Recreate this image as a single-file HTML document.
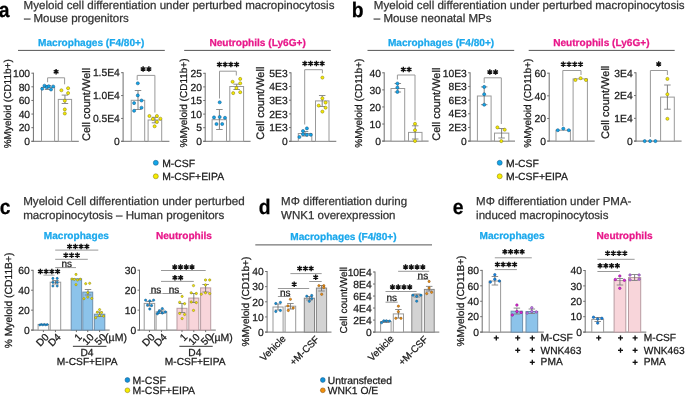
<!DOCTYPE html>
<html><head><meta charset="utf-8"><style>
html,body{margin:0;padding:0;background:#fff;}
body{width:685px;height:395px;overflow:hidden;}
svg{display:block;font-family:"Liberation Sans",sans-serif;will-change:transform;text-rendering:geometricPrecision;}

</style></head><body>
<svg width="685" height="395" viewBox="0 0 685 395">
<rect width="685" height="395" fill="#fff"/>
<text transform="translate(9.4 17.1) scale(0.92 1)" font-size="21" font-weight="700" fill="#000" stroke="#000" stroke-width="0.25" text-anchor="end">a</text>
<text x="23.6" y="8.5" font-size="11.57" fill="#333333" stroke="#333333" stroke-width="0.25">Myeloid cell differentiation under perturbed macropinocytosis</text>
<text x="23.9" y="21.6" font-size="11.5" fill="#333333" stroke="#333333" stroke-width="0.25">– Mouse progenitors</text>
<text x="38" y="45.6" font-size="10.1" font-weight="700" fill="#1aa8ec" stroke="#1aa8ec" stroke-width="0.25">Macrophages (F4/80+)</text>
<text x="209.4" y="45.8" font-size="10.1" font-weight="700" fill="#e8178a" stroke="#e8178a" stroke-width="0.25">Neutrophils (Ly6G+)</text>
<line x1="18" y1="50.4" x2="164.8" y2="50.4" stroke="#555" stroke-width="1"/>
<line x1="184.2" y1="50.4" x2="330.8" y2="50.4" stroke="#555" stroke-width="1"/>
<line x1="33.4" y1="72.7" x2="33.4" y2="141.8" stroke="#6e6e6e" stroke-width="1"/>
<line x1="31.4" y1="141.3" x2="78.8" y2="141.3" stroke="#6e6e6e" stroke-width="1"/>
<line x1="31.4" y1="141.3" x2="33.4" y2="141.3" stroke="#6e6e6e" stroke-width="1"/>
<text x="30.1" y="145" font-size="10.3" fill="#1a1a1a" stroke="#1a1a1a" stroke-width="0.25" text-anchor="end">0</text>
<line x1="31.4" y1="127.68" x2="33.4" y2="127.68" stroke="#6e6e6e" stroke-width="1"/>
<text x="30.1" y="131.38" font-size="10.3" fill="#1a1a1a" stroke="#1a1a1a" stroke-width="0.25" text-anchor="end">20</text>
<line x1="31.4" y1="114.06" x2="33.4" y2="114.06" stroke="#6e6e6e" stroke-width="1"/>
<text x="30.1" y="117.76" font-size="10.3" fill="#1a1a1a" stroke="#1a1a1a" stroke-width="0.25" text-anchor="end">40</text>
<line x1="31.4" y1="100.44" x2="33.4" y2="100.44" stroke="#6e6e6e" stroke-width="1"/>
<text x="30.1" y="104.14" font-size="10.3" fill="#1a1a1a" stroke="#1a1a1a" stroke-width="0.25" text-anchor="end">60</text>
<line x1="31.4" y1="86.82" x2="33.4" y2="86.82" stroke="#6e6e6e" stroke-width="1"/>
<text x="30.1" y="90.52" font-size="10.3" fill="#1a1a1a" stroke="#1a1a1a" stroke-width="0.25" text-anchor="end">80</text>
<line x1="31.4" y1="73.2" x2="33.4" y2="73.2" stroke="#6e6e6e" stroke-width="1"/>
<text x="30.1" y="76.9" font-size="10.3" fill="#1a1a1a" stroke="#1a1a1a" stroke-width="0.25" text-anchor="end">100</text>
<text x="11.2" y="103.8" font-size="10" fill="#1a1a1a" stroke="#1a1a1a" stroke-width="0.25" text-anchor="middle" transform="rotate(-90 11.2 103.8)">%Myeloid (CD11b+)</text>
<rect x="41.5" y="87.5" width="13.1" height="53.8" fill="#fff" stroke="#999999" stroke-width="1"/>
<rect x="58.3" y="99.4" width="13.3" height="41.9" fill="#fff" stroke="#999999" stroke-width="1"/>
<line x1="48" y1="85.6" x2="48" y2="89.5" stroke="#6a6a6a" stroke-width="0.85"/>
<line x1="44.75" y1="85.6" x2="51.25" y2="85.6" stroke="#808080" stroke-width="0.9"/>
<line x1="44.75" y1="89.5" x2="51.25" y2="89.5" stroke="#808080" stroke-width="0.9"/>
<line x1="64.95" y1="95.1" x2="64.95" y2="103.5" stroke="#6a6a6a" stroke-width="0.85"/>
<line x1="61.7" y1="95.1" x2="68.2" y2="95.1" stroke="#808080" stroke-width="0.9"/>
<line x1="61.7" y1="103.5" x2="68.2" y2="103.5" stroke="#808080" stroke-width="0.9"/>
<path d="M47.6 82.3V77.8H64.6V84.3" stroke="#999999" stroke-width="1" fill="none"/>
<path d="M56.1 69.05L56.1 74.55M53.72 70.42L58.48 73.17M58.48 70.42L53.72 73.17" stroke="#111" stroke-width="1.4" fill="none"/>
<circle cx="42.2" cy="88.7" r="1.55" fill="#12a6e8" stroke="#1a5a88" stroke-width="0.55"/>
<circle cx="44.5" cy="85.7" r="1.55" fill="#12a6e8" stroke="#1a5a88" stroke-width="0.55"/>
<circle cx="46.7" cy="87.2" r="1.55" fill="#12a6e8" stroke="#1a5a88" stroke-width="0.55"/>
<circle cx="48.7" cy="86.2" r="1.55" fill="#12a6e8" stroke="#1a5a88" stroke-width="0.55"/>
<circle cx="51" cy="89.5" r="1.55" fill="#12a6e8" stroke="#1a5a88" stroke-width="0.55"/>
<circle cx="53.2" cy="86.5" r="1.55" fill="#12a6e8" stroke="#1a5a88" stroke-width="0.55"/>
<circle cx="61.4" cy="90.3" r="1.55" fill="#f6ec00" stroke="#8a7f10" stroke-width="0.55"/>
<circle cx="68.1" cy="88.2" r="1.55" fill="#f6ec00" stroke="#8a7f10" stroke-width="0.55"/>
<circle cx="68.1" cy="93.1" r="1.55" fill="#f6ec00" stroke="#8a7f10" stroke-width="0.55"/>
<circle cx="64.8" cy="100.7" r="1.55" fill="#f6ec00" stroke="#8a7f10" stroke-width="0.55"/>
<circle cx="64.8" cy="109.4" r="1.55" fill="#f6ec00" stroke="#8a7f10" stroke-width="0.55"/>
<circle cx="64.8" cy="113.5" r="1.55" fill="#f6ec00" stroke="#8a7f10" stroke-width="0.55"/>
<line x1="123.1" y1="72.2" x2="123.1" y2="141.8" stroke="#6e6e6e" stroke-width="1"/>
<line x1="121.1" y1="141.3" x2="169.4" y2="141.3" stroke="#6e6e6e" stroke-width="1"/>
<line x1="121.1" y1="141.3" x2="123.1" y2="141.3" stroke="#6e6e6e" stroke-width="1"/>
<text x="119.8" y="145" font-size="10.3" fill="#1a1a1a" stroke="#1a1a1a" stroke-width="0.25" text-anchor="end">0</text>
<line x1="121.1" y1="118.43" x2="123.1" y2="118.43" stroke="#6e6e6e" stroke-width="1"/>
<text x="119.8" y="122.13" font-size="10.3" fill="#1a1a1a" stroke="#1a1a1a" stroke-width="0.25" text-anchor="end">0.5E4</text>
<line x1="121.1" y1="95.57" x2="123.1" y2="95.57" stroke="#6e6e6e" stroke-width="1"/>
<text x="119.8" y="99.27" font-size="10.3" fill="#1a1a1a" stroke="#1a1a1a" stroke-width="0.25" text-anchor="end">1.0E4</text>
<line x1="121.1" y1="72.7" x2="123.1" y2="72.7" stroke="#6e6e6e" stroke-width="1"/>
<text x="119.8" y="76.4" font-size="10.3" fill="#1a1a1a" stroke="#1a1a1a" stroke-width="0.25" text-anchor="end">1.5E4</text>
<text x="90.3" y="104.4" font-size="11" fill="#1a1a1a" stroke="#1a1a1a" stroke-width="0.25" text-anchor="middle" transform="rotate(-90 90.3 104.4)">Cell count/Well</text>
<rect x="131.2" y="100.3" width="13.5" height="41" fill="#fff" stroke="#999999" stroke-width="1"/>
<rect x="148.1" y="120" width="13.6" height="21.3" fill="#fff" stroke="#999999" stroke-width="1"/>
<line x1="138" y1="90.5" x2="138" y2="109.5" stroke="#6a6a6a" stroke-width="0.85"/>
<line x1="134.75" y1="90.5" x2="141.25" y2="90.5" stroke="#808080" stroke-width="0.9"/>
<line x1="134.75" y1="109.5" x2="141.25" y2="109.5" stroke="#808080" stroke-width="0.9"/>
<line x1="155" y1="117.3" x2="155" y2="122.8" stroke="#6a6a6a" stroke-width="0.85"/>
<line x1="151.75" y1="117.3" x2="158.25" y2="117.3" stroke="#808080" stroke-width="0.9"/>
<line x1="151.75" y1="122.8" x2="158.25" y2="122.8" stroke="#808080" stroke-width="0.9"/>
<path d="M137.2 80.2V75.4H154.9V112.5" stroke="#999999" stroke-width="1" fill="none"/>
<path d="M143.12 66.35L143.12 71.85M140.74 67.72L145.51 70.47M145.51 67.72L140.74 70.47" stroke="#111" stroke-width="1.4" fill="none"/>
<path d="M148.88 66.35L148.88 71.85M146.49 67.72L151.26 70.47M151.26 67.72L146.49 70.47" stroke="#111" stroke-width="1.4" fill="none"/>
<circle cx="137.8" cy="83.3" r="1.55" fill="#12a6e8" stroke="#1a5a88" stroke-width="0.55"/>
<circle cx="137.8" cy="95.4" r="1.55" fill="#12a6e8" stroke="#1a5a88" stroke-width="0.55"/>
<circle cx="141.5" cy="100.5" r="1.55" fill="#12a6e8" stroke="#1a5a88" stroke-width="0.55"/>
<circle cx="134.1" cy="103.1" r="1.55" fill="#12a6e8" stroke="#1a5a88" stroke-width="0.55"/>
<circle cx="141.5" cy="107.7" r="1.55" fill="#12a6e8" stroke="#1a5a88" stroke-width="0.55"/>
<circle cx="134.1" cy="110.8" r="1.55" fill="#12a6e8" stroke="#1a5a88" stroke-width="0.55"/>
<circle cx="149.4" cy="116" r="1.55" fill="#f6ec00" stroke="#8a7f10" stroke-width="0.55"/>
<circle cx="152.9" cy="119" r="1.55" fill="#f6ec00" stroke="#8a7f10" stroke-width="0.55"/>
<circle cx="156.9" cy="116" r="1.55" fill="#f6ec00" stroke="#8a7f10" stroke-width="0.55"/>
<circle cx="160.4" cy="118.7" r="1.55" fill="#f6ec00" stroke="#8a7f10" stroke-width="0.55"/>
<circle cx="156.9" cy="121.9" r="1.55" fill="#f6ec00" stroke="#8a7f10" stroke-width="0.55"/>
<circle cx="154.6" cy="126.3" r="1.55" fill="#f6ec00" stroke="#8a7f10" stroke-width="0.55"/>
<line x1="205.2" y1="72.8" x2="205.2" y2="141.8" stroke="#6e6e6e" stroke-width="1"/>
<line x1="203.2" y1="141.3" x2="250.6" y2="141.3" stroke="#6e6e6e" stroke-width="1"/>
<line x1="203.2" y1="141.3" x2="205.2" y2="141.3" stroke="#6e6e6e" stroke-width="1"/>
<text x="201.9" y="145" font-size="10.3" fill="#1a1a1a" stroke="#1a1a1a" stroke-width="0.25" text-anchor="end">0</text>
<line x1="203.2" y1="127.7" x2="205.2" y2="127.7" stroke="#6e6e6e" stroke-width="1"/>
<text x="201.9" y="131.4" font-size="10.3" fill="#1a1a1a" stroke="#1a1a1a" stroke-width="0.25" text-anchor="end">5</text>
<line x1="203.2" y1="114.1" x2="205.2" y2="114.1" stroke="#6e6e6e" stroke-width="1"/>
<text x="201.9" y="117.8" font-size="10.3" fill="#1a1a1a" stroke="#1a1a1a" stroke-width="0.25" text-anchor="end">10</text>
<line x1="203.2" y1="100.5" x2="205.2" y2="100.5" stroke="#6e6e6e" stroke-width="1"/>
<text x="201.9" y="104.2" font-size="10.3" fill="#1a1a1a" stroke="#1a1a1a" stroke-width="0.25" text-anchor="end">15</text>
<line x1="203.2" y1="86.9" x2="205.2" y2="86.9" stroke="#6e6e6e" stroke-width="1"/>
<text x="201.9" y="90.6" font-size="10.3" fill="#1a1a1a" stroke="#1a1a1a" stroke-width="0.25" text-anchor="end">20</text>
<line x1="203.2" y1="73.3" x2="205.2" y2="73.3" stroke="#6e6e6e" stroke-width="1"/>
<text x="201.9" y="77" font-size="10.3" fill="#1a1a1a" stroke="#1a1a1a" stroke-width="0.25" text-anchor="end">25</text>
<text x="186.9" y="103" font-size="10" fill="#1a1a1a" stroke="#1a1a1a" stroke-width="0.25" text-anchor="middle" transform="rotate(-90 186.9 103)">%Myeloid (CD11b+)</text>
<rect x="212.1" y="119.7" width="14.4" height="21.6" fill="#fff" stroke="#999999" stroke-width="1"/>
<rect x="229.8" y="86.5" width="13.8" height="54.8" fill="#fff" stroke="#999999" stroke-width="1"/>
<line x1="219.4" y1="109.5" x2="219.4" y2="129.5" stroke="#6a6a6a" stroke-width="0.85"/>
<line x1="216.15" y1="109.5" x2="222.65" y2="109.5" stroke="#808080" stroke-width="0.9"/>
<line x1="216.15" y1="129.5" x2="222.65" y2="129.5" stroke="#808080" stroke-width="0.9"/>
<line x1="236.7" y1="84.2" x2="236.7" y2="89.5" stroke="#6a6a6a" stroke-width="0.85"/>
<line x1="233.45" y1="84.2" x2="239.95" y2="84.2" stroke="#808080" stroke-width="0.9"/>
<line x1="233.45" y1="89.5" x2="239.95" y2="89.5" stroke="#808080" stroke-width="0.9"/>
<path d="M219.5 98.5V71.2H236.3V75.5" stroke="#999999" stroke-width="1" fill="none"/>
<path d="M219.38 61.85L219.38 67.35M216.99 63.22L221.76 65.97M221.76 63.22L216.99 65.97" stroke="#111" stroke-width="1.4" fill="none"/>
<path d="M225.12 61.85L225.12 67.35M222.74 63.22L227.51 65.97M227.51 63.22L222.74 65.97" stroke="#111" stroke-width="1.4" fill="none"/>
<path d="M230.88 61.85L230.88 67.35M228.49 63.22L233.26 65.97M233.26 63.22L228.49 65.97" stroke="#111" stroke-width="1.4" fill="none"/>
<path d="M236.62 61.85L236.62 67.35M234.24 63.22L239.01 65.97M239.01 63.22L234.24 65.97" stroke="#111" stroke-width="1.4" fill="none"/>
<circle cx="219.7" cy="102.3" r="1.55" fill="#12a6e8" stroke="#1a5a88" stroke-width="0.55"/>
<circle cx="214" cy="117.4" r="1.55" fill="#12a6e8" stroke="#1a5a88" stroke-width="0.55"/>
<circle cx="219.7" cy="117" r="1.55" fill="#12a6e8" stroke="#1a5a88" stroke-width="0.55"/>
<circle cx="225" cy="117.8" r="1.55" fill="#12a6e8" stroke="#1a5a88" stroke-width="0.55"/>
<circle cx="216.5" cy="124" r="1.55" fill="#12a6e8" stroke="#1a5a88" stroke-width="0.55"/>
<circle cx="222.2" cy="124" r="1.55" fill="#12a6e8" stroke="#1a5a88" stroke-width="0.55"/>
<circle cx="232.6" cy="81.8" r="1.55" fill="#f6ec00" stroke="#8a7f10" stroke-width="0.55"/>
<circle cx="240.2" cy="78.9" r="1.55" fill="#f6ec00" stroke="#8a7f10" stroke-width="0.55"/>
<circle cx="240.2" cy="83.3" r="1.55" fill="#f6ec00" stroke="#8a7f10" stroke-width="0.55"/>
<circle cx="236.4" cy="88" r="1.55" fill="#f6ec00" stroke="#8a7f10" stroke-width="0.55"/>
<circle cx="233.2" cy="93.1" r="1.55" fill="#f6ec00" stroke="#8a7f10" stroke-width="0.55"/>
<circle cx="240.2" cy="92.2" r="1.55" fill="#f6ec00" stroke="#8a7f10" stroke-width="0.55"/>
<line x1="291" y1="72.3" x2="291" y2="141.8" stroke="#6e6e6e" stroke-width="1"/>
<line x1="289" y1="141.3" x2="336.3" y2="141.3" stroke="#6e6e6e" stroke-width="1"/>
<line x1="289" y1="141.3" x2="291" y2="141.3" stroke="#6e6e6e" stroke-width="1"/>
<text x="287.7" y="145" font-size="10.3" fill="#1a1a1a" stroke="#1a1a1a" stroke-width="0.25" text-anchor="end">0</text>
<line x1="289" y1="127.6" x2="291" y2="127.6" stroke="#6e6e6e" stroke-width="1"/>
<text x="287.7" y="131.3" font-size="10.3" fill="#1a1a1a" stroke="#1a1a1a" stroke-width="0.25" text-anchor="end">1E3</text>
<line x1="289" y1="113.9" x2="291" y2="113.9" stroke="#6e6e6e" stroke-width="1"/>
<text x="287.7" y="117.6" font-size="10.3" fill="#1a1a1a" stroke="#1a1a1a" stroke-width="0.25" text-anchor="end">2E3</text>
<line x1="289" y1="100.2" x2="291" y2="100.2" stroke="#6e6e6e" stroke-width="1"/>
<text x="287.7" y="103.9" font-size="10.3" fill="#1a1a1a" stroke="#1a1a1a" stroke-width="0.25" text-anchor="end">3E3</text>
<line x1="289" y1="86.5" x2="291" y2="86.5" stroke="#6e6e6e" stroke-width="1"/>
<text x="287.7" y="90.2" font-size="10.3" fill="#1a1a1a" stroke="#1a1a1a" stroke-width="0.25" text-anchor="end">4E3</text>
<line x1="289" y1="72.8" x2="291" y2="72.8" stroke="#6e6e6e" stroke-width="1"/>
<text x="287.7" y="76.5" font-size="10.3" fill="#1a1a1a" stroke="#1a1a1a" stroke-width="0.25" text-anchor="end">5E3</text>
<text x="264" y="103.2" font-size="11" fill="#1a1a1a" stroke="#1a1a1a" stroke-width="0.25" text-anchor="middle" transform="rotate(-90 264 103.2)">Cell count/Well</text>
<rect x="298.3" y="133.5" width="13.5" height="7.8" fill="#fff" stroke="#999999" stroke-width="1"/>
<rect x="315.5" y="100.9" width="13.5" height="40.4" fill="#fff" stroke="#999999" stroke-width="1"/>
<line x1="305" y1="131.5" x2="305" y2="136" stroke="#6a6a6a" stroke-width="0.85"/>
<line x1="301.75" y1="131.5" x2="308.25" y2="131.5" stroke="#808080" stroke-width="0.9"/>
<line x1="301.75" y1="136" x2="308.25" y2="136" stroke="#808080" stroke-width="0.9"/>
<line x1="322.2" y1="95.5" x2="322.2" y2="106.5" stroke="#6a6a6a" stroke-width="0.85"/>
<line x1="318.95" y1="95.5" x2="325.45" y2="95.5" stroke="#808080" stroke-width="0.9"/>
<line x1="318.95" y1="106.5" x2="325.45" y2="106.5" stroke="#808080" stroke-width="0.9"/>
<path d="M304.7 124.5V69.7H322.4V73.3" stroke="#999999" stroke-width="1" fill="none"/>
<path d="M304.88 60.65L304.88 66.15M302.49 62.02L307.26 64.77M307.26 62.02L302.49 64.77" stroke="#111" stroke-width="1.4" fill="none"/>
<path d="M310.62 60.65L310.62 66.15M308.24 62.02L313.01 64.77M313.01 62.02L308.24 64.77" stroke="#111" stroke-width="1.4" fill="none"/>
<path d="M316.38 60.65L316.38 66.15M313.99 62.02L318.76 64.77M318.76 62.02L313.99 64.77" stroke="#111" stroke-width="1.4" fill="none"/>
<path d="M322.12 60.65L322.12 66.15M319.74 62.02L324.51 64.77M324.51 62.02L319.74 64.77" stroke="#111" stroke-width="1.4" fill="none"/>
<circle cx="306.9" cy="128.4" r="1.55" fill="#12a6e8" stroke="#1a5a88" stroke-width="0.55"/>
<circle cx="303" cy="131" r="1.55" fill="#12a6e8" stroke="#1a5a88" stroke-width="0.55"/>
<circle cx="303" cy="134.2" r="1.55" fill="#12a6e8" stroke="#1a5a88" stroke-width="0.55"/>
<circle cx="306.9" cy="134.8" r="1.55" fill="#12a6e8" stroke="#1a5a88" stroke-width="0.55"/>
<circle cx="310.8" cy="134.8" r="1.55" fill="#12a6e8" stroke="#1a5a88" stroke-width="0.55"/>
<circle cx="299.4" cy="137" r="1.55" fill="#12a6e8" stroke="#1a5a88" stroke-width="0.55"/>
<circle cx="322.4" cy="77.6" r="1.55" fill="#f6ec00" stroke="#8a7f10" stroke-width="0.55"/>
<circle cx="322.4" cy="98.3" r="1.55" fill="#f6ec00" stroke="#8a7f10" stroke-width="0.55"/>
<circle cx="325.6" cy="102.6" r="1.55" fill="#f6ec00" stroke="#8a7f10" stroke-width="0.55"/>
<circle cx="318.7" cy="105.6" r="1.55" fill="#f6ec00" stroke="#8a7f10" stroke-width="0.55"/>
<circle cx="325.6" cy="107.7" r="1.55" fill="#f6ec00" stroke="#8a7f10" stroke-width="0.55"/>
<circle cx="322.4" cy="111.6" r="1.55" fill="#f6ec00" stroke="#8a7f10" stroke-width="0.55"/>
<circle cx="155.8" cy="162.8" r="2.5" fill="#12a6e8" stroke="#1a5a88" stroke-width="0.55"/>
<circle cx="155.8" cy="176.3" r="2.5" fill="#f6ec00" stroke="#8a7f10" stroke-width="0.55"/>
<text x="162.2" y="166.6" font-size="10.4" fill="#1a1a1a" stroke="#1a1a1a" stroke-width="0.25">M-CSF</text>
<text x="162.2" y="180.1" font-size="10.4" fill="#1a1a1a" stroke="#1a1a1a" stroke-width="0.25">M-CSF+EIPA</text>
<text transform="translate(363.6 17.1) scale(0.92 1)" font-size="21" font-weight="700" fill="#000" stroke="#000" stroke-width="0.25" text-anchor="end">b</text>
<text x="373.8" y="8.5" font-size="11.57" fill="#333333" stroke="#333333" stroke-width="0.25">Myeloid cell differentiation under perturbed macropinocytosis</text>
<text x="373.8" y="21.6" font-size="11.5" fill="#333333" stroke="#333333" stroke-width="0.25">– Mouse neonatal MPs</text>
<text x="387.9" y="45.6" font-size="10.1" font-weight="700" fill="#1aa8ec" stroke="#1aa8ec" stroke-width="0.25">Macrophages (F4/80+)</text>
<text x="553.2" y="45.8" font-size="10.1" font-weight="700" fill="#e8178a" stroke="#e8178a" stroke-width="0.25">Neutrophils (Ly6G+)</text>
<line x1="367.5" y1="50.4" x2="514.2" y2="50.4" stroke="#555" stroke-width="1"/>
<line x1="528.7" y1="50.4" x2="674.7" y2="50.4" stroke="#555" stroke-width="1"/>
<line x1="384.2" y1="72.3" x2="384.2" y2="141.6" stroke="#6e6e6e" stroke-width="1"/>
<line x1="382.2" y1="141.1" x2="428.6" y2="141.1" stroke="#6e6e6e" stroke-width="1"/>
<line x1="382.2" y1="141.1" x2="384.2" y2="141.1" stroke="#6e6e6e" stroke-width="1"/>
<text x="380.9" y="144.8" font-size="10.3" fill="#1a1a1a" stroke="#1a1a1a" stroke-width="0.25" text-anchor="end">0</text>
<line x1="382.2" y1="124.02" x2="384.2" y2="124.02" stroke="#6e6e6e" stroke-width="1"/>
<text x="380.9" y="127.72" font-size="10.3" fill="#1a1a1a" stroke="#1a1a1a" stroke-width="0.25" text-anchor="end">10</text>
<line x1="382.2" y1="106.95" x2="384.2" y2="106.95" stroke="#6e6e6e" stroke-width="1"/>
<text x="380.9" y="110.65" font-size="10.3" fill="#1a1a1a" stroke="#1a1a1a" stroke-width="0.25" text-anchor="end">20</text>
<line x1="382.2" y1="89.88" x2="384.2" y2="89.88" stroke="#6e6e6e" stroke-width="1"/>
<text x="380.9" y="93.58" font-size="10.3" fill="#1a1a1a" stroke="#1a1a1a" stroke-width="0.25" text-anchor="end">30</text>
<line x1="382.2" y1="72.8" x2="384.2" y2="72.8" stroke="#6e6e6e" stroke-width="1"/>
<text x="380.9" y="76.5" font-size="10.3" fill="#1a1a1a" stroke="#1a1a1a" stroke-width="0.25" text-anchor="end">40</text>
<text x="361.9" y="103.2" font-size="10" fill="#1a1a1a" stroke="#1a1a1a" stroke-width="0.25" text-anchor="middle" transform="rotate(-90 361.9 103.2)">%Myeloid (CD11b+)</text>
<rect x="391" y="88.5" width="13.7" height="52.6" fill="#fff" stroke="#999999" stroke-width="1"/>
<rect x="408.5" y="132.4" width="13.5" height="8.7" fill="#fff" stroke="#999999" stroke-width="1"/>
<line x1="397.8" y1="83.5" x2="397.8" y2="92" stroke="#6a6a6a" stroke-width="0.85"/>
<line x1="394.55" y1="83.5" x2="401.05" y2="83.5" stroke="#808080" stroke-width="0.9"/>
<line x1="394.55" y1="92" x2="401.05" y2="92" stroke="#808080" stroke-width="0.9"/>
<line x1="415.2" y1="125.8" x2="415.2" y2="139" stroke="#6a6a6a" stroke-width="0.85"/>
<line x1="411.95" y1="125.8" x2="418.45" y2="125.8" stroke="#808080" stroke-width="0.9"/>
<line x1="411.95" y1="139" x2="418.45" y2="139" stroke="#808080" stroke-width="0.9"/>
<path d="M397.4 79.5V75H415V120.5" stroke="#999999" stroke-width="1" fill="none"/>
<path d="M403.32 66.65L403.32 72.15M400.94 68.02L405.71 70.77M405.71 68.02L400.94 70.77" stroke="#111" stroke-width="1.4" fill="none"/>
<path d="M409.07 66.65L409.07 72.15M406.69 68.02L411.46 70.77M411.46 68.02L406.69 70.77" stroke="#111" stroke-width="1.4" fill="none"/>
<circle cx="397.4" cy="83.5" r="1.55" fill="#12a6e8" stroke="#1a5a88" stroke-width="0.55"/>
<circle cx="397.4" cy="87.6" r="1.55" fill="#12a6e8" stroke="#1a5a88" stroke-width="0.55"/>
<circle cx="397.4" cy="91.9" r="1.55" fill="#12a6e8" stroke="#1a5a88" stroke-width="0.55"/>
<circle cx="415" cy="123.8" r="1.55" fill="#f6ec00" stroke="#8a7f10" stroke-width="0.55"/>
<circle cx="415" cy="130.2" r="1.55" fill="#f6ec00" stroke="#8a7f10" stroke-width="0.55"/>
<circle cx="415" cy="141" r="1.55" fill="#f6ec00" stroke="#8a7f10" stroke-width="0.55"/>
<line x1="470.1" y1="72.3" x2="470.1" y2="141.6" stroke="#6e6e6e" stroke-width="1"/>
<line x1="468.1" y1="141.1" x2="515" y2="141.1" stroke="#6e6e6e" stroke-width="1"/>
<line x1="468.1" y1="141.1" x2="470.1" y2="141.1" stroke="#6e6e6e" stroke-width="1"/>
<text x="466.8" y="144.8" font-size="10.3" fill="#1a1a1a" stroke="#1a1a1a" stroke-width="0.25" text-anchor="end">0</text>
<line x1="468.1" y1="127.44" x2="470.1" y2="127.44" stroke="#6e6e6e" stroke-width="1"/>
<text x="466.8" y="131.14" font-size="10.3" fill="#1a1a1a" stroke="#1a1a1a" stroke-width="0.25" text-anchor="end">2E3</text>
<line x1="468.1" y1="113.78" x2="470.1" y2="113.78" stroke="#6e6e6e" stroke-width="1"/>
<text x="466.8" y="117.48" font-size="10.3" fill="#1a1a1a" stroke="#1a1a1a" stroke-width="0.25" text-anchor="end">4E3</text>
<line x1="468.1" y1="100.12" x2="470.1" y2="100.12" stroke="#6e6e6e" stroke-width="1"/>
<text x="466.8" y="103.82" font-size="10.3" fill="#1a1a1a" stroke="#1a1a1a" stroke-width="0.25" text-anchor="end">6E3</text>
<line x1="468.1" y1="86.46" x2="470.1" y2="86.46" stroke="#6e6e6e" stroke-width="1"/>
<text x="466.8" y="90.16" font-size="10.3" fill="#1a1a1a" stroke="#1a1a1a" stroke-width="0.25" text-anchor="end">8E3</text>
<line x1="468.1" y1="72.8" x2="470.1" y2="72.8" stroke="#6e6e6e" stroke-width="1"/>
<text x="466.8" y="76.5" font-size="10.3" fill="#1a1a1a" stroke="#1a1a1a" stroke-width="0.25" text-anchor="end">10E3</text>
<text x="440.2" y="104.2" font-size="11" fill="#1a1a1a" stroke="#1a1a1a" stroke-width="0.25" text-anchor="middle" transform="rotate(-90 440.2 104.2)">Cell count/Well</text>
<rect x="477.4" y="96" width="13.7" height="45.1" fill="#fff" stroke="#999999" stroke-width="1"/>
<rect x="494.5" y="133.1" width="14.3" height="8" fill="#fff" stroke="#999999" stroke-width="1"/>
<line x1="484.2" y1="86.9" x2="484.2" y2="104.7" stroke="#6a6a6a" stroke-width="0.85"/>
<line x1="480.95" y1="86.9" x2="487.45" y2="86.9" stroke="#808080" stroke-width="0.9"/>
<line x1="480.95" y1="104.7" x2="487.45" y2="104.7" stroke="#808080" stroke-width="0.9"/>
<line x1="501.6" y1="128.5" x2="501.6" y2="138" stroke="#6a6a6a" stroke-width="0.85"/>
<line x1="498.35" y1="128.5" x2="504.85" y2="128.5" stroke="#808080" stroke-width="0.9"/>
<line x1="498.35" y1="138" x2="504.85" y2="138" stroke="#808080" stroke-width="0.9"/>
<path d="M484.2 83V77.8H501.3V124" stroke="#999999" stroke-width="1" fill="none"/>
<path d="M489.82 69.35L489.82 74.85M487.44 70.72L492.21 73.47M492.21 70.72L487.44 73.47" stroke="#111" stroke-width="1.4" fill="none"/>
<path d="M495.57 69.35L495.57 74.85M493.19 70.72L497.96 73.47M497.96 70.72L493.19 73.47" stroke="#111" stroke-width="1.4" fill="none"/>
<circle cx="484.2" cy="86.9" r="1.55" fill="#12a6e8" stroke="#1a5a88" stroke-width="0.55"/>
<circle cx="484.2" cy="94.2" r="1.55" fill="#12a6e8" stroke="#1a5a88" stroke-width="0.55"/>
<circle cx="484.2" cy="104.7" r="1.55" fill="#12a6e8" stroke="#1a5a88" stroke-width="0.55"/>
<circle cx="497.4" cy="127.4" r="1.55" fill="#f6ec00" stroke="#8a7f10" stroke-width="0.55"/>
<circle cx="504.7" cy="129.7" r="1.55" fill="#f6ec00" stroke="#8a7f10" stroke-width="0.55"/>
<circle cx="501.3" cy="141.1" r="1.55" fill="#f6ec00" stroke="#8a7f10" stroke-width="0.55"/>
<line x1="549.2" y1="72.7" x2="549.2" y2="141.6" stroke="#6e6e6e" stroke-width="1"/>
<line x1="547.2" y1="141.1" x2="594.7" y2="141.1" stroke="#6e6e6e" stroke-width="1"/>
<line x1="547.2" y1="141.1" x2="549.2" y2="141.1" stroke="#6e6e6e" stroke-width="1"/>
<text x="545.9" y="144.8" font-size="10.3" fill="#1a1a1a" stroke="#1a1a1a" stroke-width="0.25" text-anchor="end">0</text>
<line x1="547.2" y1="118.47" x2="549.2" y2="118.47" stroke="#6e6e6e" stroke-width="1"/>
<text x="545.9" y="122.17" font-size="10.3" fill="#1a1a1a" stroke="#1a1a1a" stroke-width="0.25" text-anchor="end">20</text>
<line x1="547.2" y1="95.83" x2="549.2" y2="95.83" stroke="#6e6e6e" stroke-width="1"/>
<text x="545.9" y="99.53" font-size="10.3" fill="#1a1a1a" stroke="#1a1a1a" stroke-width="0.25" text-anchor="end">40</text>
<line x1="547.2" y1="73.2" x2="549.2" y2="73.2" stroke="#6e6e6e" stroke-width="1"/>
<text x="545.9" y="76.9" font-size="10.3" fill="#1a1a1a" stroke="#1a1a1a" stroke-width="0.25" text-anchor="end">60</text>
<text x="531.2" y="103.2" font-size="10" fill="#1a1a1a" stroke="#1a1a1a" stroke-width="0.25" text-anchor="middle" transform="rotate(-90 531.2 103.2)">%Myeloid (CD11b+)</text>
<rect x="556" y="130.2" width="14.4" height="10.9" fill="#fff" stroke="#999999" stroke-width="1"/>
<rect x="573.1" y="78.9" width="14.3" height="62.2" fill="#fff" stroke="#999999" stroke-width="1"/>
<path d="M562.8 126V70.5H581V75" stroke="#999999" stroke-width="1" fill="none"/>
<path d="M563.27 61.55L563.27 67.05M560.89 62.92L565.66 65.67M565.66 62.92L560.89 65.67" stroke="#111" stroke-width="1.4" fill="none"/>
<path d="M569.02 61.55L569.02 67.05M566.64 62.92L571.41 65.67M571.41 62.92L566.64 65.67" stroke="#111" stroke-width="1.4" fill="none"/>
<path d="M574.77 61.55L574.77 67.05M572.39 62.92L577.16 65.67M577.16 62.92L572.39 65.67" stroke="#111" stroke-width="1.4" fill="none"/>
<path d="M580.52 61.55L580.52 67.05M578.14 62.92L582.91 65.67M582.91 62.92L578.14 65.67" stroke="#111" stroke-width="1.4" fill="none"/>
<circle cx="557.8" cy="130.2" r="1.55" fill="#12a6e8" stroke="#1a5a88" stroke-width="0.55"/>
<circle cx="563.3" cy="128.6" r="1.55" fill="#12a6e8" stroke="#1a5a88" stroke-width="0.55"/>
<circle cx="568.8" cy="130.2" r="1.55" fill="#12a6e8" stroke="#1a5a88" stroke-width="0.55"/>
<circle cx="575.4" cy="80" r="1.55" fill="#f6ec00" stroke="#8a7f10" stroke-width="0.55"/>
<circle cx="580.6" cy="78.2" r="1.55" fill="#f6ec00" stroke="#8a7f10" stroke-width="0.55"/>
<circle cx="586" cy="80" r="1.55" fill="#f6ec00" stroke="#8a7f10" stroke-width="0.55"/>
<line x1="636" y1="72.3" x2="636" y2="141.6" stroke="#6e6e6e" stroke-width="1"/>
<line x1="634" y1="141.1" x2="681.6" y2="141.1" stroke="#6e6e6e" stroke-width="1"/>
<line x1="634" y1="141.1" x2="636" y2="141.1" stroke="#6e6e6e" stroke-width="1"/>
<text x="632.7" y="144.8" font-size="10.3" fill="#1a1a1a" stroke="#1a1a1a" stroke-width="0.25" text-anchor="end">0</text>
<line x1="634" y1="118.33" x2="636" y2="118.33" stroke="#6e6e6e" stroke-width="1"/>
<text x="632.7" y="122.03" font-size="10.3" fill="#1a1a1a" stroke="#1a1a1a" stroke-width="0.25" text-anchor="end">1E4</text>
<line x1="634" y1="95.57" x2="636" y2="95.57" stroke="#6e6e6e" stroke-width="1"/>
<text x="632.7" y="99.27" font-size="10.3" fill="#1a1a1a" stroke="#1a1a1a" stroke-width="0.25" text-anchor="end">2E4</text>
<line x1="634" y1="72.8" x2="636" y2="72.8" stroke="#6e6e6e" stroke-width="1"/>
<text x="632.7" y="76.5" font-size="10.3" fill="#1a1a1a" stroke="#1a1a1a" stroke-width="0.25" text-anchor="end">3E4</text>
<text x="609.4" y="102.3" font-size="11" fill="#1a1a1a" stroke="#1a1a1a" stroke-width="0.25" text-anchor="middle" transform="rotate(-90 609.4 102.3)">Cell count/Well</text>
<rect x="643.3" y="141.1" width="13.7" height="0" fill="#fff" stroke="#999999" stroke-width="1"/>
<rect x="660.6" y="97.1" width="13.7" height="44" fill="#fff" stroke="#999999" stroke-width="1"/>
<line x1="667.4" y1="85" x2="667.4" y2="109.2" stroke="#6a6a6a" stroke-width="0.85"/>
<line x1="664.15" y1="85" x2="670.65" y2="85" stroke="#808080" stroke-width="0.9"/>
<line x1="664.15" y1="109.2" x2="670.65" y2="109.2" stroke="#808080" stroke-width="0.9"/>
<path d="M650.4 137V70.5H667.4V75" stroke="#999999" stroke-width="1" fill="none"/>
<path d="M658.7 61.35L658.7 66.85M656.32 62.72L661.08 65.47M661.08 62.72L656.32 65.47" stroke="#111" stroke-width="1.4" fill="none"/>
<circle cx="644.7" cy="141.1" r="1.55" fill="#12a6e8" stroke="#1a5a88" stroke-width="0.55"/>
<circle cx="650.1" cy="141.1" r="1.55" fill="#12a6e8" stroke="#1a5a88" stroke-width="0.55"/>
<circle cx="655.4" cy="141.1" r="1.55" fill="#12a6e8" stroke="#1a5a88" stroke-width="0.55"/>
<circle cx="667.4" cy="78.9" r="1.55" fill="#f6ec00" stroke="#8a7f10" stroke-width="0.55"/>
<circle cx="667.4" cy="94.2" r="1.55" fill="#f6ec00" stroke="#8a7f10" stroke-width="0.55"/>
<circle cx="667.4" cy="118.8" r="1.55" fill="#f6ec00" stroke="#8a7f10" stroke-width="0.55"/>
<circle cx="499.7" cy="162.8" r="2.5" fill="#12a6e8" stroke="#1a5a88" stroke-width="0.55"/>
<circle cx="499.7" cy="176.3" r="2.5" fill="#f6ec00" stroke="#8a7f10" stroke-width="0.55"/>
<text x="506" y="166.6" font-size="10.4" fill="#1a1a1a" stroke="#1a1a1a" stroke-width="0.25">M-CSF</text>
<text x="506" y="180.1" font-size="10.4" fill="#1a1a1a" stroke="#1a1a1a" stroke-width="0.25">M-CSF+EIPA</text>
<text transform="translate(10.6 213.6) scale(0.92 1)" font-size="21" font-weight="700" fill="#000" stroke="#000" stroke-width="0.25" text-anchor="end">c</text>
<text x="23.2" y="204.6" font-size="11.6" fill="#333333" stroke="#333333" stroke-width="0.25">Myeloid Cell differentiation under perturbed</text>
<text x="23.2" y="218.6" font-size="11.6" fill="#333333" stroke="#333333" stroke-width="0.25">macropinocytosis – Human progenitors</text>
<text x="43.8" y="239.2" font-size="10.1" font-weight="700" fill="#1aa8ec" stroke="#1aa8ec" stroke-width="0.25">Macrophages</text>
<text x="155.9" y="239.2" font-size="10.1" font-weight="700" fill="#e8178a" stroke="#e8178a" stroke-width="0.25">Neutrophils</text>
<line x1="33.1" y1="269.8" x2="33.1" y2="330.6" stroke="#6e6e6e" stroke-width="1"/>
<line x1="31.1" y1="330.1" x2="109.7" y2="330.1" stroke="#6e6e6e" stroke-width="1"/>
<line x1="31.1" y1="330.1" x2="33.1" y2="330.1" stroke="#6e6e6e" stroke-width="1"/>
<text x="29.8" y="333.8" font-size="10.3" fill="#1a1a1a" stroke="#1a1a1a" stroke-width="0.25" text-anchor="end">0</text>
<line x1="31.1" y1="310.17" x2="33.1" y2="310.17" stroke="#6e6e6e" stroke-width="1"/>
<text x="29.8" y="313.87" font-size="10.3" fill="#1a1a1a" stroke="#1a1a1a" stroke-width="0.25" text-anchor="end">20</text>
<line x1="31.1" y1="290.23" x2="33.1" y2="290.23" stroke="#6e6e6e" stroke-width="1"/>
<text x="29.8" y="293.93" font-size="10.3" fill="#1a1a1a" stroke="#1a1a1a" stroke-width="0.25" text-anchor="end">40</text>
<line x1="31.1" y1="270.3" x2="33.1" y2="270.3" stroke="#6e6e6e" stroke-width="1"/>
<text x="29.8" y="274" font-size="10.3" fill="#1a1a1a" stroke="#1a1a1a" stroke-width="0.25" text-anchor="end">60</text>
<text x="11.6" y="300.4" font-size="10.3" fill="#1a1a1a" stroke="#1a1a1a" stroke-width="0.25" text-anchor="middle" transform="rotate(-90 11.6 300.4)">% Myeloid (CD11B+)</text>
<rect x="38.1" y="324.4" width="10.6" height="5.7" fill="#fff" stroke="#999999" stroke-width="1"/>
<rect x="50.2" y="282.2" width="10.5" height="47.9" fill="#fff" stroke="#999999" stroke-width="1"/>
<rect x="71.2" y="278.8" width="10.4" height="51.3" fill="#8cc3ea" stroke="#6d8fae" stroke-width="1"/>
<rect x="82.8" y="292.1" width="9.9" height="38" fill="#8cc3ea" stroke="#6d8fae" stroke-width="1"/>
<rect x="94.4" y="314.2" width="10.4" height="15.9" fill="#8cc3ea" stroke="#6d8fae" stroke-width="1"/>
<line x1="88" y1="289.5" x2="88" y2="295" stroke="#6a6a6a" stroke-width="0.85"/>
<line x1="84.75" y1="289.5" x2="91.25" y2="289.5" stroke="#808080" stroke-width="0.9"/>
<line x1="84.75" y1="295" x2="91.25" y2="295" stroke="#808080" stroke-width="0.9"/>
<line x1="99.6" y1="312" x2="99.6" y2="316.5" stroke="#6a6a6a" stroke-width="0.85"/>
<line x1="96.35" y1="312" x2="102.85" y2="312" stroke="#808080" stroke-width="0.9"/>
<line x1="96.35" y1="316.5" x2="102.85" y2="316.5" stroke="#808080" stroke-width="0.9"/>
<line x1="55.5" y1="280.5" x2="55.5" y2="284" stroke="#6a6a6a" stroke-width="0.85"/>
<line x1="52.25" y1="280.5" x2="58.75" y2="280.5" stroke="#808080" stroke-width="0.9"/>
<line x1="52.25" y1="284" x2="58.75" y2="284" stroke="#808080" stroke-width="0.9"/>
<line x1="43.4" y1="330.1" x2="43.4" y2="332.1" stroke="#6e6e6e" stroke-width="1"/>
<text x="49.5" y="337.8" font-size="10.2" fill="#1a1a1a" stroke="#1a1a1a" stroke-width="0.25" text-anchor="end" transform="rotate(-45 49.5 337.8)">D0</text>
<line x1="55.45" y1="330.1" x2="55.45" y2="332.1" stroke="#6e6e6e" stroke-width="1"/>
<text x="61.55" y="337.8" font-size="10.2" fill="#1a1a1a" stroke="#1a1a1a" stroke-width="0.25" text-anchor="end" transform="rotate(-45 61.55 337.8)">D4</text>
<line x1="76.4" y1="330.1" x2="76.4" y2="332.1" stroke="#6e6e6e" stroke-width="1"/>
<text x="82.5" y="337.8" font-size="10.2" fill="#1a1a1a" stroke="#1a1a1a" stroke-width="0.25" text-anchor="end" transform="rotate(-45 82.5 337.8)">1</text>
<line x1="87.75" y1="330.1" x2="87.75" y2="332.1" stroke="#6e6e6e" stroke-width="1"/>
<text x="94.45" y="337.8" font-size="10.2" fill="#1a1a1a" stroke="#1a1a1a" stroke-width="0.25" text-anchor="end" transform="rotate(-45 94.45 337.8)">10</text>
<line x1="99.6" y1="330.1" x2="99.6" y2="332.1" stroke="#6e6e6e" stroke-width="1"/>
<text x="106.9" y="337.8" font-size="10.2" fill="#1a1a1a" stroke="#1a1a1a" stroke-width="0.25" text-anchor="end" transform="rotate(-45 106.9 337.8)">50</text>
<line x1="55.2" y1="250.1" x2="98.3" y2="250.1" stroke="#999999" stroke-width="1"/>
<path d="M69.58 243.75L69.58 249.25M67.19 245.12L71.96 247.88M71.96 245.12L67.19 247.88" stroke="#111" stroke-width="1.4" fill="none"/>
<path d="M75.33 243.75L75.33 249.25M72.94 245.12L77.71 247.88M77.71 245.12L72.94 247.88" stroke="#111" stroke-width="1.4" fill="none"/>
<path d="M81.08 243.75L81.08 249.25M78.69 245.12L83.46 247.88M83.46 245.12L78.69 247.88" stroke="#111" stroke-width="1.4" fill="none"/>
<path d="M86.83 243.75L86.83 249.25M84.44 245.12L89.21 247.88M89.21 245.12L84.44 247.88" stroke="#111" stroke-width="1.4" fill="none"/>
<line x1="55.2" y1="259.3" x2="87.8" y2="259.3" stroke="#999999" stroke-width="1"/>
<path d="M65.85 252.45L65.85 257.95M63.47 253.82L68.23 256.57M68.23 253.82L63.47 256.57" stroke="#111" stroke-width="1.4" fill="none"/>
<path d="M71.6 252.45L71.6 257.95M69.22 253.82L73.98 256.57M73.98 253.82L69.22 256.57" stroke="#111" stroke-width="1.4" fill="none"/>
<path d="M77.35 252.45L77.35 257.95M74.97 253.82L79.73 256.57M79.73 253.82L74.97 256.57" stroke="#111" stroke-width="1.4" fill="none"/>
<line x1="55.2" y1="267.6" x2="76" y2="267.6" stroke="#999999" stroke-width="1"/>
<text x="66.7" y="267" font-size="10" fill="#1a1a1a" stroke="#1a1a1a" stroke-width="0.25" text-anchor="middle">ns</text>
<line x1="43.4" y1="275.2" x2="54.6" y2="275.2" stroke="#aaa" stroke-width="1"/>
<path d="M40.38 268.75L40.38 274.25M37.99 270.12L42.76 272.88M42.76 270.12L37.99 272.88" stroke="#111" stroke-width="1.4" fill="none"/>
<path d="M46.12 268.75L46.12 274.25M43.74 270.12L48.51 272.88M48.51 270.12L43.74 272.88" stroke="#111" stroke-width="1.4" fill="none"/>
<path d="M51.88 268.75L51.88 274.25M49.49 270.12L54.26 272.88M54.26 270.12L49.49 272.88" stroke="#111" stroke-width="1.4" fill="none"/>
<path d="M57.62 268.75L57.62 274.25M55.24 270.12L60.01 272.88M60.01 270.12L55.24 272.88" stroke="#111" stroke-width="1.4" fill="none"/>
<circle cx="39.8" cy="325" r="0.95" fill="#1092da" stroke="#1a5a88" stroke-width="0.55"/>
<circle cx="41.3" cy="324.4" r="0.95" fill="#1092da" stroke="#1a5a88" stroke-width="0.55"/>
<circle cx="42.8" cy="324.9" r="0.95" fill="#1092da" stroke="#1a5a88" stroke-width="0.55"/>
<circle cx="44.3" cy="324.4" r="0.95" fill="#1092da" stroke="#1a5a88" stroke-width="0.55"/>
<circle cx="45.8" cy="324.9" r="0.95" fill="#1092da" stroke="#1a5a88" stroke-width="0.55"/>
<circle cx="47.3" cy="324.5" r="0.95" fill="#1092da" stroke="#1a5a88" stroke-width="0.55"/>
<circle cx="52.9" cy="278.4" r="1.1" fill="#1092da" stroke="#1a5a88" stroke-width="0.55"/>
<circle cx="57.2" cy="278.4" r="1.1" fill="#1092da" stroke="#1a5a88" stroke-width="0.55"/>
<circle cx="52.9" cy="282.3" r="1.1" fill="#1092da" stroke="#1a5a88" stroke-width="0.55"/>
<circle cx="57.2" cy="282.3" r="1.1" fill="#1092da" stroke="#1a5a88" stroke-width="0.55"/>
<circle cx="52.9" cy="286" r="1.1" fill="#1092da" stroke="#1a5a88" stroke-width="0.55"/>
<circle cx="57.2" cy="286" r="1.1" fill="#1092da" stroke="#1a5a88" stroke-width="0.55"/>
<circle cx="76" cy="274.4" r="1.1" fill="#f6ec00" stroke="#8a7f10" stroke-width="0.55"/>
<circle cx="72" cy="279" r="1.1" fill="#f6ec00" stroke="#8a7f10" stroke-width="0.55"/>
<circle cx="74.3" cy="279.4" r="1.1" fill="#f6ec00" stroke="#8a7f10" stroke-width="0.55"/>
<circle cx="77.6" cy="280" r="1.1" fill="#f6ec00" stroke="#8a7f10" stroke-width="0.55"/>
<circle cx="80.2" cy="279.2" r="1.1" fill="#f6ec00" stroke="#8a7f10" stroke-width="0.55"/>
<circle cx="76" cy="284.7" r="1.1" fill="#f6ec00" stroke="#8a7f10" stroke-width="0.55"/>
<circle cx="85.7" cy="283.7" r="1.1" fill="#f6ec00" stroke="#8a7f10" stroke-width="0.55"/>
<circle cx="89.7" cy="283.3" r="1.1" fill="#f6ec00" stroke="#8a7f10" stroke-width="0.55"/>
<circle cx="87.8" cy="292.7" r="1.1" fill="#f6ec00" stroke="#8a7f10" stroke-width="0.55"/>
<circle cx="87.8" cy="297.1" r="1.1" fill="#f6ec00" stroke="#8a7f10" stroke-width="0.55"/>
<circle cx="83.9" cy="298.7" r="1.1" fill="#f6ec00" stroke="#8a7f10" stroke-width="0.55"/>
<circle cx="91.8" cy="298.4" r="1.1" fill="#f6ec00" stroke="#8a7f10" stroke-width="0.55"/>
<circle cx="99.6" cy="309.6" r="1.1" fill="#f6ec00" stroke="#8a7f10" stroke-width="0.55"/>
<circle cx="97.3" cy="312.2" r="1.1" fill="#f6ec00" stroke="#8a7f10" stroke-width="0.55"/>
<circle cx="101.5" cy="312.6" r="1.1" fill="#f6ec00" stroke="#8a7f10" stroke-width="0.55"/>
<circle cx="99.6" cy="315.5" r="1.1" fill="#f6ec00" stroke="#8a7f10" stroke-width="0.55"/>
<circle cx="95.7" cy="317.7" r="1.1" fill="#f6ec00" stroke="#8a7f10" stroke-width="0.55"/>
<circle cx="103.6" cy="316.1" r="1.1" fill="#f6ec00" stroke="#8a7f10" stroke-width="0.55"/>
<text x="105.1" y="340.8" font-size="10.5" fill="#1a1a1a" stroke="#1a1a1a" stroke-width="0.25">(µM)</text>
<line x1="72.9" y1="346.3" x2="106.5" y2="346.3" stroke="#333" stroke-width="1"/>
<text x="87" y="355.8" font-size="10.2" fill="#1a1a1a" stroke="#1a1a1a" stroke-width="0.25" text-anchor="middle">D4</text>
<text x="87.2" y="365.3" font-size="10.2" fill="#1a1a1a" stroke="#1a1a1a" stroke-width="0.25" text-anchor="middle">M-CSF+EIPA</text>
<line x1="139.5" y1="269.7" x2="139.5" y2="330.6" stroke="#6e6e6e" stroke-width="1"/>
<line x1="137.5" y1="330.1" x2="215.8" y2="330.1" stroke="#6e6e6e" stroke-width="1"/>
<line x1="137.5" y1="330.1" x2="139.5" y2="330.1" stroke="#6e6e6e" stroke-width="1"/>
<text x="136.2" y="333.8" font-size="10.3" fill="#1a1a1a" stroke="#1a1a1a" stroke-width="0.25" text-anchor="end">0</text>
<line x1="137.5" y1="310.13" x2="139.5" y2="310.13" stroke="#6e6e6e" stroke-width="1"/>
<text x="136.2" y="313.83" font-size="10.3" fill="#1a1a1a" stroke="#1a1a1a" stroke-width="0.25" text-anchor="end">10</text>
<line x1="137.5" y1="290.17" x2="139.5" y2="290.17" stroke="#6e6e6e" stroke-width="1"/>
<text x="136.2" y="293.87" font-size="10.3" fill="#1a1a1a" stroke="#1a1a1a" stroke-width="0.25" text-anchor="end">20</text>
<line x1="137.5" y1="270.2" x2="139.5" y2="270.2" stroke="#6e6e6e" stroke-width="1"/>
<text x="136.2" y="273.9" font-size="10.3" fill="#1a1a1a" stroke="#1a1a1a" stroke-width="0.25" text-anchor="end">30</text>
<rect x="144.2" y="303.4" width="10.5" height="26.7" fill="#fff" stroke="#999999" stroke-width="1"/>
<rect x="156.1" y="311.8" width="10.7" height="18.3" fill="#fff" stroke="#999999" stroke-width="1"/>
<rect x="177" y="308.3" width="10" height="21.8" fill="#f8d5da" stroke="#b89ca2" stroke-width="1"/>
<rect x="188.8" y="298.1" width="10" height="32" fill="#f8d5da" stroke="#b89ca2" stroke-width="1"/>
<rect x="200.6" y="287.9" width="10.1" height="42.2" fill="#f8d5da" stroke="#b89ca2" stroke-width="1"/>
<line x1="149.5" y1="301.5" x2="149.5" y2="306" stroke="#6a6a6a" stroke-width="0.85"/>
<line x1="146.25" y1="301.5" x2="152.75" y2="301.5" stroke="#808080" stroke-width="0.9"/>
<line x1="146.25" y1="306" x2="152.75" y2="306" stroke="#808080" stroke-width="0.9"/>
<line x1="161.4" y1="310" x2="161.4" y2="313.5" stroke="#6a6a6a" stroke-width="0.85"/>
<line x1="158.15" y1="310" x2="164.65" y2="310" stroke="#808080" stroke-width="0.9"/>
<line x1="158.15" y1="313.5" x2="164.65" y2="313.5" stroke="#808080" stroke-width="0.9"/>
<line x1="182" y1="303.5" x2="182" y2="312.5" stroke="#6a6a6a" stroke-width="0.85"/>
<line x1="178.75" y1="303.5" x2="185.25" y2="303.5" stroke="#808080" stroke-width="0.9"/>
<line x1="178.75" y1="312.5" x2="185.25" y2="312.5" stroke="#808080" stroke-width="0.9"/>
<line x1="193.8" y1="293.5" x2="193.8" y2="302.5" stroke="#6a6a6a" stroke-width="0.85"/>
<line x1="190.55" y1="293.5" x2="197.05" y2="293.5" stroke="#808080" stroke-width="0.9"/>
<line x1="190.55" y1="302.5" x2="197.05" y2="302.5" stroke="#808080" stroke-width="0.9"/>
<line x1="205.6" y1="284.5" x2="205.6" y2="292" stroke="#6a6a6a" stroke-width="0.85"/>
<line x1="202.35" y1="284.5" x2="208.85" y2="284.5" stroke="#808080" stroke-width="0.9"/>
<line x1="202.35" y1="292" x2="208.85" y2="292" stroke="#808080" stroke-width="0.9"/>
<line x1="149.45" y1="330.1" x2="149.45" y2="332.1" stroke="#6e6e6e" stroke-width="1"/>
<text x="155.55" y="337.8" font-size="10.2" fill="#1a1a1a" stroke="#1a1a1a" stroke-width="0.25" text-anchor="end" transform="rotate(-45 155.55 337.8)">D0</text>
<line x1="161.45" y1="330.1" x2="161.45" y2="332.1" stroke="#6e6e6e" stroke-width="1"/>
<text x="167.55" y="337.8" font-size="10.2" fill="#1a1a1a" stroke="#1a1a1a" stroke-width="0.25" text-anchor="end" transform="rotate(-45 167.55 337.8)">D4</text>
<line x1="182" y1="330.1" x2="182" y2="332.1" stroke="#6e6e6e" stroke-width="1"/>
<text x="188.1" y="337.8" font-size="10.2" fill="#1a1a1a" stroke="#1a1a1a" stroke-width="0.25" text-anchor="end" transform="rotate(-45 188.1 337.8)">1</text>
<line x1="193.8" y1="330.1" x2="193.8" y2="332.1" stroke="#6e6e6e" stroke-width="1"/>
<text x="200.5" y="337.8" font-size="10.2" fill="#1a1a1a" stroke="#1a1a1a" stroke-width="0.25" text-anchor="end" transform="rotate(-45 200.5 337.8)">10</text>
<line x1="205.65" y1="330.1" x2="205.65" y2="332.1" stroke="#6e6e6e" stroke-width="1"/>
<text x="212.95" y="337.8" font-size="10.2" fill="#1a1a1a" stroke="#1a1a1a" stroke-width="0.25" text-anchor="end" transform="rotate(-45 212.95 337.8)">50</text>
<line x1="161" y1="270.5" x2="205.7" y2="270.5" stroke="#999999" stroke-width="1"/>
<path d="M174.78 264.25L174.78 269.75M172.39 265.62L177.16 268.38M177.16 265.62L172.39 268.38" stroke="#111" stroke-width="1.4" fill="none"/>
<path d="M180.53 264.25L180.53 269.75M178.14 265.62L182.91 268.38M182.91 265.62L178.14 268.38" stroke="#111" stroke-width="1.4" fill="none"/>
<path d="M186.28 264.25L186.28 269.75M183.89 265.62L188.66 268.38M188.66 265.62L183.89 268.38" stroke="#111" stroke-width="1.4" fill="none"/>
<path d="M192.03 264.25L192.03 269.75M189.64 265.62L194.41 268.38M194.41 265.62L189.64 268.38" stroke="#111" stroke-width="1.4" fill="none"/>
<line x1="161" y1="281.4" x2="193.8" y2="281.4" stroke="#999999" stroke-width="1"/>
<path d="M174.93 274.95L174.93 280.45M172.54 276.33L177.31 279.08M177.31 276.33L172.54 279.08" stroke="#111" stroke-width="1.4" fill="none"/>
<path d="M180.68 274.95L180.68 280.45M178.29 276.33L183.06 279.08M183.06 276.33L178.29 279.08" stroke="#111" stroke-width="1.4" fill="none"/>
<line x1="149.4" y1="293.5" x2="161.5" y2="293.5" stroke="#999999" stroke-width="1"/>
<text x="156.1" y="293" font-size="10" fill="#1a1a1a" stroke="#1a1a1a" stroke-width="0.25" text-anchor="middle">ns</text>
<line x1="162.3" y1="293.5" x2="181.8" y2="293.5" stroke="#999999" stroke-width="1"/>
<text x="174.1" y="293" font-size="10" fill="#1a1a1a" stroke="#1a1a1a" stroke-width="0.25" text-anchor="middle">ns</text>
<circle cx="145.6" cy="300.2" r="1.15" fill="#1092da" stroke="#1a5a88" stroke-width="0.55"/>
<circle cx="149.8" cy="300.9" r="1.15" fill="#1092da" stroke="#1a5a88" stroke-width="0.55"/>
<circle cx="153.6" cy="300.2" r="1.15" fill="#1092da" stroke="#1a5a88" stroke-width="0.55"/>
<circle cx="147.6" cy="305.1" r="1.15" fill="#1092da" stroke="#1a5a88" stroke-width="0.55"/>
<circle cx="151.5" cy="305.5" r="1.15" fill="#1092da" stroke="#1a5a88" stroke-width="0.55"/>
<circle cx="149.8" cy="309" r="1.15" fill="#1092da" stroke="#1a5a88" stroke-width="0.55"/>
<circle cx="157.3" cy="313.8" r="1.15" fill="#1092da" stroke="#1a5a88" stroke-width="0.55"/>
<circle cx="159.5" cy="310.9" r="1.15" fill="#1092da" stroke="#1a5a88" stroke-width="0.55"/>
<circle cx="162.3" cy="308.6" r="1.15" fill="#1092da" stroke="#1a5a88" stroke-width="0.55"/>
<circle cx="162.3" cy="313" r="1.15" fill="#1092da" stroke="#1a5a88" stroke-width="0.55"/>
<circle cx="165.4" cy="312" r="1.15" fill="#1092da" stroke="#1a5a88" stroke-width="0.55"/>
<circle cx="158.5" cy="312.5" r="1.15" fill="#1092da" stroke="#1a5a88" stroke-width="0.55"/>
<circle cx="182.1" cy="296.4" r="1.15" fill="#f6ec00" stroke="#8a7f10" stroke-width="0.55"/>
<circle cx="179.7" cy="302.3" r="1.15" fill="#f6ec00" stroke="#8a7f10" stroke-width="0.55"/>
<circle cx="184.6" cy="303.7" r="1.15" fill="#f6ec00" stroke="#8a7f10" stroke-width="0.55"/>
<circle cx="179.7" cy="313.4" r="1.15" fill="#f6ec00" stroke="#8a7f10" stroke-width="0.55"/>
<circle cx="184.6" cy="314.5" r="1.15" fill="#f6ec00" stroke="#8a7f10" stroke-width="0.55"/>
<circle cx="182.1" cy="318.6" r="1.15" fill="#f6ec00" stroke="#8a7f10" stroke-width="0.55"/>
<circle cx="193.5" cy="285.6" r="1.15" fill="#f6ec00" stroke="#8a7f10" stroke-width="0.55"/>
<circle cx="191.2" cy="292.8" r="1.15" fill="#f6ec00" stroke="#8a7f10" stroke-width="0.55"/>
<circle cx="196.3" cy="293.5" r="1.15" fill="#f6ec00" stroke="#8a7f10" stroke-width="0.55"/>
<circle cx="191.2" cy="302" r="1.15" fill="#f6ec00" stroke="#8a7f10" stroke-width="0.55"/>
<circle cx="196.3" cy="302.6" r="1.15" fill="#f6ec00" stroke="#8a7f10" stroke-width="0.55"/>
<circle cx="193.5" cy="310.4" r="1.15" fill="#f6ec00" stroke="#8a7f10" stroke-width="0.55"/>
<circle cx="205.5" cy="280" r="1.15" fill="#f6ec00" stroke="#8a7f10" stroke-width="0.55"/>
<circle cx="209.7" cy="280" r="1.15" fill="#f6ec00" stroke="#8a7f10" stroke-width="0.55"/>
<circle cx="205.5" cy="284.9" r="1.15" fill="#f6ec00" stroke="#8a7f10" stroke-width="0.55"/>
<circle cx="201.3" cy="294.2" r="1.15" fill="#f6ec00" stroke="#8a7f10" stroke-width="0.55"/>
<circle cx="205.5" cy="292.8" r="1.15" fill="#f6ec00" stroke="#8a7f10" stroke-width="0.55"/>
<circle cx="209.7" cy="293.6" r="1.15" fill="#f6ec00" stroke="#8a7f10" stroke-width="0.55"/>
<text x="210.9" y="340.8" font-size="10.5" fill="#1a1a1a" stroke="#1a1a1a" stroke-width="0.25">(µM)</text>
<line x1="179.4" y1="346.3" x2="212.7" y2="346.3" stroke="#333" stroke-width="1"/>
<text x="194.8" y="355.8" font-size="10.2" fill="#1a1a1a" stroke="#1a1a1a" stroke-width="0.25" text-anchor="middle">D4</text>
<text x="195.2" y="365.3" font-size="10.2" fill="#1a1a1a" stroke="#1a1a1a" stroke-width="0.25" text-anchor="middle">M-CSF+EIPA</text>
<circle cx="127.4" cy="380" r="2.4" fill="#1092da" stroke="#1a5a88" stroke-width="0.55"/>
<circle cx="127.4" cy="390.3" r="2.4" fill="#f6ec00" stroke="#8a7f10" stroke-width="0.55"/>
<text x="132.6" y="383.8" font-size="10.5" fill="#1a1a1a" stroke="#1a1a1a" stroke-width="0.25">M-CSF</text>
<text x="132.6" y="394.1" font-size="10.5" fill="#1a1a1a" stroke="#1a1a1a" stroke-width="0.25">M-CSF+EIPA</text>
<text transform="translate(270.6 213.6) scale(0.92 1)" font-size="21" font-weight="700" fill="#000" stroke="#000" stroke-width="0.25" text-anchor="end">d</text>
<text x="281.1" y="204.6" font-size="11.5" fill="#333333" stroke="#333333" stroke-width="0.25">MΦ differentiation during</text>
<text x="281.1" y="218.6" font-size="11.5" fill="#333333" stroke="#333333" stroke-width="0.25">WNK1 overexpression</text>
<text x="290.3" y="239.7" font-size="10.1" font-weight="700" fill="#1aa8ec" stroke="#1aa8ec" stroke-width="0.25">Macrophages (F4/80+)</text>
<line x1="255.3" y1="244.9" x2="432" y2="244.9" stroke="#555" stroke-width="1"/>
<line x1="267.1" y1="271" x2="267.1" y2="332.6" stroke="#6e6e6e" stroke-width="1"/>
<line x1="265.1" y1="332.1" x2="331.5" y2="332.1" stroke="#6e6e6e" stroke-width="1"/>
<line x1="265.1" y1="332.1" x2="267.1" y2="332.1" stroke="#6e6e6e" stroke-width="1"/>
<text x="263.8" y="335.8" font-size="10.3" fill="#1a1a1a" stroke="#1a1a1a" stroke-width="0.25" text-anchor="end">0</text>
<line x1="265.1" y1="316.95" x2="267.1" y2="316.95" stroke="#6e6e6e" stroke-width="1"/>
<text x="263.8" y="320.65" font-size="10.3" fill="#1a1a1a" stroke="#1a1a1a" stroke-width="0.25" text-anchor="end">10</text>
<line x1="265.1" y1="301.8" x2="267.1" y2="301.8" stroke="#6e6e6e" stroke-width="1"/>
<text x="263.8" y="305.5" font-size="10.3" fill="#1a1a1a" stroke="#1a1a1a" stroke-width="0.25" text-anchor="end">20</text>
<line x1="265.1" y1="286.65" x2="267.1" y2="286.65" stroke="#6e6e6e" stroke-width="1"/>
<text x="263.8" y="290.35" font-size="10.3" fill="#1a1a1a" stroke="#1a1a1a" stroke-width="0.25" text-anchor="end">30</text>
<line x1="265.1" y1="271.5" x2="267.1" y2="271.5" stroke="#6e6e6e" stroke-width="1"/>
<text x="263.8" y="275.2" font-size="10.3" fill="#1a1a1a" stroke="#1a1a1a" stroke-width="0.25" text-anchor="end">40</text>
<text x="249.4" y="301.6" font-size="10.1" fill="#1a1a1a" stroke="#1a1a1a" stroke-width="0.25" text-anchor="middle" transform="rotate(-90 249.4 301.6)">%Myeloid (CD11b+)</text>
<rect x="273" y="307" width="10.1" height="25.1" fill="#fff" stroke="#999999" stroke-width="1"/>
<rect x="285.1" y="306.2" width="10.6" height="25.9" fill="#fff" stroke="#999999" stroke-width="1"/>
<rect x="304.3" y="298.2" width="10.2" height="33.9" fill="#d3d3d3" stroke="#858585" stroke-width="1"/>
<rect x="316.4" y="288.1" width="10.2" height="44" fill="#d3d3d3" stroke="#858585" stroke-width="1"/>
<line x1="278" y1="304" x2="278" y2="310" stroke="#6a6a6a" stroke-width="0.85"/>
<line x1="274.75" y1="304" x2="281.25" y2="304" stroke="#808080" stroke-width="0.9"/>
<line x1="274.75" y1="310" x2="281.25" y2="310" stroke="#808080" stroke-width="0.9"/>
<line x1="290.4" y1="303.5" x2="290.4" y2="309" stroke="#6a6a6a" stroke-width="0.85"/>
<line x1="287.15" y1="303.5" x2="293.65" y2="303.5" stroke="#808080" stroke-width="0.9"/>
<line x1="287.15" y1="309" x2="293.65" y2="309" stroke="#808080" stroke-width="0.9"/>
<line x1="309.4" y1="296.5" x2="309.4" y2="300" stroke="#6a6a6a" stroke-width="0.85"/>
<line x1="306.15" y1="296.5" x2="312.65" y2="296.5" stroke="#808080" stroke-width="0.9"/>
<line x1="306.15" y1="300" x2="312.65" y2="300" stroke="#808080" stroke-width="0.9"/>
<line x1="321.5" y1="285.5" x2="321.5" y2="291" stroke="#6a6a6a" stroke-width="0.85"/>
<line x1="318.25" y1="285.5" x2="324.75" y2="285.5" stroke="#808080" stroke-width="0.9"/>
<line x1="318.25" y1="291" x2="324.75" y2="291" stroke="#808080" stroke-width="0.9"/>
<line x1="290.4" y1="273.6" x2="321.7" y2="273.6" stroke="#999999" stroke-width="1"/>
<path d="M299.65 265.85L299.65 271.35M297.27 267.23L302.03 269.98M302.03 267.23L297.27 269.98" stroke="#111" stroke-width="1.4" fill="none"/>
<path d="M305.4 265.85L305.4 271.35M303.02 267.23L307.78 269.98M307.78 267.23L303.02 269.98" stroke="#111" stroke-width="1.4" fill="none"/>
<path d="M311.15 265.85L311.15 271.35M308.77 267.23L313.53 269.98M313.53 267.23L308.77 269.98" stroke="#111" stroke-width="1.4" fill="none"/>
<line x1="309.2" y1="281.5" x2="321.7" y2="281.5" stroke="#999999" stroke-width="1"/>
<path d="M315.7 274.55L315.7 280.05M313.32 275.93L318.08 278.68M318.08 275.93L313.32 278.68" stroke="#111" stroke-width="1.4" fill="none"/>
<line x1="277.9" y1="288.5" x2="309.2" y2="288.5" stroke="#999999" stroke-width="1"/>
<path d="M294.2 281.55L294.2 287.05M291.82 282.93L296.58 285.68M296.58 282.93L291.82 285.68" stroke="#111" stroke-width="1.4" fill="none"/>
<line x1="277.9" y1="296.5" x2="290.4" y2="296.5" stroke="#999999" stroke-width="1"/>
<text x="285.2" y="295.7" font-size="10" fill="#1a1a1a" stroke="#1a1a1a" stroke-width="0.25" text-anchor="middle">ns</text>
<circle cx="275.8" cy="303.5" r="1.15" fill="#1092da" stroke="#1a5a88" stroke-width="0.55"/>
<circle cx="280.4" cy="302.4" r="1.15" fill="#1092da" stroke="#1a5a88" stroke-width="0.55"/>
<circle cx="275.8" cy="311.5" r="1.15" fill="#1092da" stroke="#1a5a88" stroke-width="0.55"/>
<circle cx="280.4" cy="310.5" r="1.15" fill="#1092da" stroke="#1a5a88" stroke-width="0.55"/>
<circle cx="290.4" cy="299.3" r="1.15" fill="#f0900c" stroke="#8a5010" stroke-width="0.55"/>
<circle cx="287.9" cy="305.9" r="1.15" fill="#f0900c" stroke="#8a5010" stroke-width="0.55"/>
<circle cx="293.2" cy="308" r="1.15" fill="#f0900c" stroke="#8a5010" stroke-width="0.55"/>
<circle cx="288.3" cy="310.5" r="1.15" fill="#f0900c" stroke="#8a5010" stroke-width="0.55"/>
<circle cx="306.8" cy="296.2" r="1.15" fill="#1092da" stroke="#1a5a88" stroke-width="0.55"/>
<circle cx="311.7" cy="295.5" r="1.15" fill="#1092da" stroke="#1a5a88" stroke-width="0.55"/>
<circle cx="311.7" cy="298.6" r="1.15" fill="#1092da" stroke="#1a5a88" stroke-width="0.55"/>
<circle cx="309.3" cy="301.3" r="1.15" fill="#1092da" stroke="#1a5a88" stroke-width="0.55"/>
<circle cx="318.9" cy="285.7" r="1.15" fill="#f0900c" stroke="#8a5010" stroke-width="0.55"/>
<circle cx="323.8" cy="285.7" r="1.15" fill="#f0900c" stroke="#8a5010" stroke-width="0.55"/>
<circle cx="323.8" cy="287.5" r="1.15" fill="#f0900c" stroke="#8a5010" stroke-width="0.55"/>
<circle cx="321.7" cy="294.3" r="1.15" fill="#f0900c" stroke="#8a5010" stroke-width="0.55"/>
<text x="286.3" y="339.3" font-size="9.8" fill="#1a1a1a" stroke="#1a1a1a" stroke-width="0.25" text-anchor="end" transform="rotate(-45 286.3 339.3)">Vehicle</text>
<text x="319.8" y="340" font-size="9.8" fill="#1a1a1a" stroke="#1a1a1a" stroke-width="0.25" text-anchor="end" transform="rotate(-45 319.8 340)">+M-CSF</text>
<line x1="375" y1="271.5" x2="375" y2="332.6" stroke="#6e6e6e" stroke-width="1"/>
<line x1="373" y1="332.1" x2="439.3" y2="332.1" stroke="#6e6e6e" stroke-width="1"/>
<line x1="373" y1="332.1" x2="375" y2="332.1" stroke="#6e6e6e" stroke-width="1"/>
<text x="371.7" y="335.8" font-size="10.3" fill="#1a1a1a" stroke="#1a1a1a" stroke-width="0.25" text-anchor="end">0</text>
<line x1="373" y1="320.08" x2="375" y2="320.08" stroke="#6e6e6e" stroke-width="1"/>
<text x="371.7" y="323.78" font-size="10.3" fill="#1a1a1a" stroke="#1a1a1a" stroke-width="0.25" text-anchor="end">2E4</text>
<line x1="373" y1="308.06" x2="375" y2="308.06" stroke="#6e6e6e" stroke-width="1"/>
<text x="371.7" y="311.76" font-size="10.3" fill="#1a1a1a" stroke="#1a1a1a" stroke-width="0.25" text-anchor="end">4E4</text>
<line x1="373" y1="296.04" x2="375" y2="296.04" stroke="#6e6e6e" stroke-width="1"/>
<text x="371.7" y="299.74" font-size="10.3" fill="#1a1a1a" stroke="#1a1a1a" stroke-width="0.25" text-anchor="end">6E4</text>
<line x1="373" y1="284.02" x2="375" y2="284.02" stroke="#6e6e6e" stroke-width="1"/>
<text x="371.7" y="287.72" font-size="10.3" fill="#1a1a1a" stroke="#1a1a1a" stroke-width="0.25" text-anchor="end">8E4</text>
<line x1="373" y1="272" x2="375" y2="272" stroke="#6e6e6e" stroke-width="1"/>
<text x="371.7" y="275.7" font-size="10.3" fill="#1a1a1a" stroke="#1a1a1a" stroke-width="0.25" text-anchor="end">10E4</text>
<text x="346.9" y="300.2" font-size="10" fill="#1a1a1a" stroke="#1a1a1a" stroke-width="0.25" text-anchor="middle" transform="rotate(-90 346.9 300.2)">Cell count/Well</text>
<rect x="380.6" y="321.5" width="10.5" height="10.6" fill="#fff" stroke="#999999" stroke-width="1"/>
<rect x="393.3" y="313.9" width="10.2" height="18.2" fill="#fff" stroke="#999999" stroke-width="1"/>
<rect x="411.8" y="294.9" width="10" height="37.2" fill="#d3d3d3" stroke="#858585" stroke-width="1"/>
<rect x="424.4" y="289.4" width="9.8" height="42.7" fill="#d3d3d3" stroke="#858585" stroke-width="1"/>
<line x1="386" y1="320.5" x2="386" y2="322.5" stroke="#6a6a6a" stroke-width="0.85"/>
<line x1="382.75" y1="320.5" x2="389.25" y2="320.5" stroke="#808080" stroke-width="0.9"/>
<line x1="382.75" y1="322.5" x2="389.25" y2="322.5" stroke="#808080" stroke-width="0.9"/>
<line x1="398.4" y1="309.5" x2="398.4" y2="318" stroke="#6a6a6a" stroke-width="0.85"/>
<line x1="395.15" y1="309.5" x2="401.65" y2="309.5" stroke="#808080" stroke-width="0.9"/>
<line x1="395.15" y1="318" x2="401.65" y2="318" stroke="#808080" stroke-width="0.9"/>
<line x1="416.8" y1="294" x2="416.8" y2="297" stroke="#6a6a6a" stroke-width="0.85"/>
<line x1="413.55" y1="294" x2="420.05" y2="294" stroke="#808080" stroke-width="0.9"/>
<line x1="413.55" y1="297" x2="420.05" y2="297" stroke="#808080" stroke-width="0.9"/>
<line x1="429.2" y1="286.4" x2="429.2" y2="291" stroke="#6a6a6a" stroke-width="0.85"/>
<line x1="425.95" y1="286.4" x2="432.45" y2="286.4" stroke="#808080" stroke-width="0.9"/>
<line x1="425.95" y1="291" x2="432.45" y2="291" stroke="#808080" stroke-width="0.9"/>
<line x1="398.1" y1="271.3" x2="429.2" y2="271.3" stroke="#999999" stroke-width="1"/>
<path d="M405.57 264.25L405.57 269.75M403.19 265.62L407.96 268.38M407.96 265.62L403.19 268.38" stroke="#111" stroke-width="1.4" fill="none"/>
<path d="M411.32 264.25L411.32 269.75M408.94 265.62L413.71 268.38M413.71 265.62L408.94 268.38" stroke="#111" stroke-width="1.4" fill="none"/>
<path d="M417.07 264.25L417.07 269.75M414.69 265.62L419.46 268.38M419.46 265.62L414.69 268.38" stroke="#111" stroke-width="1.4" fill="none"/>
<path d="M422.82 264.25L422.82 269.75M420.44 265.62L425.21 268.38M425.21 265.62L420.44 268.38" stroke="#111" stroke-width="1.4" fill="none"/>
<line x1="416.8" y1="279.3" x2="428.4" y2="279.3" stroke="#999999" stroke-width="1"/>
<text x="422.9" y="278.5" font-size="10" fill="#1a1a1a" stroke="#1a1a1a" stroke-width="0.25" text-anchor="middle">ns</text>
<line x1="385.5" y1="291.5" x2="416.6" y2="291.5" stroke="#999999" stroke-width="1"/>
<path d="M392.48 284.15L392.48 289.65M390.09 285.53L394.86 288.28M394.86 285.53L390.09 288.28" stroke="#111" stroke-width="1.4" fill="none"/>
<path d="M398.23 284.15L398.23 289.65M395.84 285.53L400.61 288.28M400.61 285.53L395.84 288.28" stroke="#111" stroke-width="1.4" fill="none"/>
<path d="M403.98 284.15L403.98 289.65M401.59 285.53L406.36 288.28M406.36 285.53L401.59 288.28" stroke="#111" stroke-width="1.4" fill="none"/>
<path d="M409.73 284.15L409.73 289.65M407.34 285.53L412.11 288.28M412.11 285.53L407.34 288.28" stroke="#111" stroke-width="1.4" fill="none"/>
<line x1="385.5" y1="302.2" x2="397.7" y2="302.2" stroke="#999999" stroke-width="1"/>
<text x="391.8" y="301.4" font-size="10" fill="#1a1a1a" stroke="#1a1a1a" stroke-width="0.25" text-anchor="middle">ns</text>
<circle cx="381.6" cy="322.7" r="1.15" fill="#1092da" stroke="#1a5a88" stroke-width="0.55"/>
<circle cx="383.8" cy="320.8" r="1.15" fill="#1092da" stroke="#1a5a88" stroke-width="0.55"/>
<circle cx="386.4" cy="320.8" r="1.15" fill="#1092da" stroke="#1a5a88" stroke-width="0.55"/>
<circle cx="389.6" cy="321.1" r="1.15" fill="#1092da" stroke="#1a5a88" stroke-width="0.55"/>
<circle cx="398.4" cy="306.2" r="1.15" fill="#f0900c" stroke="#8a5010" stroke-width="0.55"/>
<circle cx="398.4" cy="311.7" r="1.15" fill="#f0900c" stroke="#8a5010" stroke-width="0.55"/>
<circle cx="395.8" cy="318.3" r="1.15" fill="#f0900c" stroke="#8a5010" stroke-width="0.55"/>
<circle cx="401" cy="318.3" r="1.15" fill="#f0900c" stroke="#8a5010" stroke-width="0.55"/>
<circle cx="413" cy="295.2" r="1.15" fill="#1092da" stroke="#1a5a88" stroke-width="0.55"/>
<circle cx="416.7" cy="296.4" r="1.15" fill="#1092da" stroke="#1a5a88" stroke-width="0.55"/>
<circle cx="420.8" cy="295.2" r="1.15" fill="#1092da" stroke="#1a5a88" stroke-width="0.55"/>
<circle cx="416.7" cy="301.2" r="1.15" fill="#1092da" stroke="#1a5a88" stroke-width="0.55"/>
<circle cx="429.1" cy="281.5" r="1.15" fill="#f0900c" stroke="#8a5010" stroke-width="0.55"/>
<circle cx="429.1" cy="288" r="1.15" fill="#f0900c" stroke="#8a5010" stroke-width="0.55"/>
<circle cx="426.7" cy="293.6" r="1.15" fill="#f0900c" stroke="#8a5010" stroke-width="0.55"/>
<circle cx="431.6" cy="292.3" r="1.15" fill="#f0900c" stroke="#8a5010" stroke-width="0.55"/>
<text x="394.4" y="339.3" font-size="9.8" fill="#1a1a1a" stroke="#1a1a1a" stroke-width="0.25" text-anchor="end" transform="rotate(-45 394.4 339.3)">Vehicle</text>
<text x="428.4" y="340" font-size="9.8" fill="#1a1a1a" stroke="#1a1a1a" stroke-width="0.25" text-anchor="end" transform="rotate(-45 428.4 340)">+M-CSF</text>
<circle cx="322.8" cy="380" r="2.4" fill="#1092da" stroke="#1a5a88" stroke-width="0.55"/>
<circle cx="322.8" cy="390.3" r="2.4" fill="#f0900c" stroke="#8a5010" stroke-width="0.55"/>
<text x="327.8" y="383.5" font-size="10.3" fill="#1a1a1a" stroke="#1a1a1a" stroke-width="0.25">Untransfected</text>
<text x="327.8" y="393.8" font-size="10.3" fill="#1a1a1a" stroke="#1a1a1a" stroke-width="0.25">WNK1 O/E</text>
<text transform="translate(463.4 213.6) scale(0.92 1)" font-size="21" font-weight="700" fill="#000" stroke="#000" stroke-width="0.25" text-anchor="end">e</text>
<text x="476.1" y="204.6" font-size="11.5" fill="#333333" stroke="#333333" stroke-width="0.25">MΦ differentiation under PMA-</text>
<text x="476.1" y="218.6" font-size="11.5" fill="#333333" stroke="#333333" stroke-width="0.25">induced macropinocytosis</text>
<text x="479.5" y="239.1" font-size="10.1" font-weight="700" fill="#1aa8ec" stroke="#1aa8ec" stroke-width="0.25">Macrophages</text>
<text x="596.5" y="239.3" font-size="10.1" font-weight="700" fill="#e8178a" stroke="#e8178a" stroke-width="0.25">Neutrophils</text>
<line x1="482.2" y1="269.9" x2="482.2" y2="332.6" stroke="#6e6e6e" stroke-width="1"/>
<line x1="480.2" y1="332.1" x2="543.9" y2="332.1" stroke="#6e6e6e" stroke-width="1"/>
<line x1="480.2" y1="332.1" x2="482.2" y2="332.1" stroke="#6e6e6e" stroke-width="1"/>
<text x="478.9" y="335.8" font-size="10.3" fill="#1a1a1a" stroke="#1a1a1a" stroke-width="0.25" text-anchor="end">0</text>
<line x1="480.2" y1="316.68" x2="482.2" y2="316.68" stroke="#6e6e6e" stroke-width="1"/>
<text x="478.9" y="320.38" font-size="10.3" fill="#1a1a1a" stroke="#1a1a1a" stroke-width="0.25" text-anchor="end">20</text>
<line x1="480.2" y1="301.25" x2="482.2" y2="301.25" stroke="#6e6e6e" stroke-width="1"/>
<text x="478.9" y="304.95" font-size="10.3" fill="#1a1a1a" stroke="#1a1a1a" stroke-width="0.25" text-anchor="end">40</text>
<line x1="480.2" y1="285.82" x2="482.2" y2="285.82" stroke="#6e6e6e" stroke-width="1"/>
<text x="478.9" y="289.52" font-size="10.3" fill="#1a1a1a" stroke="#1a1a1a" stroke-width="0.25" text-anchor="end">60</text>
<line x1="480.2" y1="270.4" x2="482.2" y2="270.4" stroke="#6e6e6e" stroke-width="1"/>
<text x="478.9" y="274.1" font-size="10.3" fill="#1a1a1a" stroke="#1a1a1a" stroke-width="0.25" text-anchor="end">80</text>
<text x="463.8" y="301" font-size="10.1" fill="#1a1a1a" stroke="#1a1a1a" stroke-width="0.25" text-anchor="middle" transform="rotate(-90 463.8 301)">%Myeloid (CD11B+)</text>
<rect x="489.2" y="281" width="11.4" height="51.1" fill="#fff" stroke="#999999" stroke-width="1"/>
<rect x="511.1" y="311.2" width="11.5" height="20.9" fill="#8cc3ea" stroke="#6d8fae" stroke-width="1"/>
<rect x="526" y="311.5" width="11.7" height="20.6" fill="#8cc3ea" stroke="#6d8fae" stroke-width="1"/>
<line x1="494.9" y1="276.5" x2="494.9" y2="285" stroke="#6a6a6a" stroke-width="0.85"/>
<line x1="491.65" y1="276.5" x2="498.15" y2="276.5" stroke="#808080" stroke-width="0.9"/>
<line x1="491.65" y1="285" x2="498.15" y2="285" stroke="#808080" stroke-width="0.9"/>
<line x1="516.85" y1="308.1" x2="516.85" y2="314" stroke="#6a6a6a" stroke-width="0.85"/>
<line x1="513.6" y1="308.1" x2="520.1" y2="308.1" stroke="#808080" stroke-width="0.9"/>
<line x1="513.6" y1="314" x2="520.1" y2="314" stroke="#808080" stroke-width="0.9"/>
<line x1="531.85" y1="309" x2="531.85" y2="313.5" stroke="#6a6a6a" stroke-width="0.85"/>
<line x1="528.6" y1="309" x2="535.1" y2="309" stroke="#808080" stroke-width="0.9"/>
<line x1="528.6" y1="313.5" x2="535.1" y2="313.5" stroke="#808080" stroke-width="0.9"/>
<line x1="494.8" y1="257.8" x2="531.8" y2="257.8" stroke="#999999" stroke-width="1"/>
<path d="M504.88 249.05L504.88 254.55M502.49 250.42L507.26 253.17M507.26 250.42L502.49 253.17" stroke="#111" stroke-width="1.4" fill="none"/>
<path d="M510.62 249.05L510.62 254.55M508.24 250.42L513.01 253.17M513.01 250.42L508.24 253.17" stroke="#111" stroke-width="1.4" fill="none"/>
<path d="M516.38 249.05L516.38 254.55M513.99 250.42L518.76 253.17M518.76 250.42L513.99 253.17" stroke="#111" stroke-width="1.4" fill="none"/>
<path d="M522.12 249.05L522.12 254.55M519.74 250.42L524.51 253.17M524.51 250.42L519.74 253.17" stroke="#111" stroke-width="1.4" fill="none"/>
<line x1="494.8" y1="269.6" x2="516.9" y2="269.6" stroke="#999999" stroke-width="1"/>
<path d="M497.38 261.65L497.38 267.15M494.99 263.03L499.76 265.78M499.76 263.03L494.99 265.78" stroke="#111" stroke-width="1.4" fill="none"/>
<path d="M503.12 261.65L503.12 267.15M500.74 263.03L505.51 265.78M505.51 263.03L500.74 265.78" stroke="#111" stroke-width="1.4" fill="none"/>
<path d="M508.88 261.65L508.88 267.15M506.49 263.03L511.26 265.78M511.26 263.03L506.49 265.78" stroke="#111" stroke-width="1.4" fill="none"/>
<path d="M514.62 261.65L514.62 267.15M512.24 263.03L517.01 265.78M517.01 263.03L512.24 265.78" stroke="#111" stroke-width="1.4" fill="none"/>
<circle cx="494.8" cy="274.7" r="1.25" fill="#1282ea" stroke="#1a5a88" stroke-width="0.55"/>
<circle cx="494.8" cy="279.2" r="1.25" fill="#1282ea" stroke="#1a5a88" stroke-width="0.55"/>
<circle cx="490.3" cy="282.1" r="1.25" fill="#1282ea" stroke="#1a5a88" stroke-width="0.55"/>
<circle cx="499.4" cy="281" r="1.25" fill="#1282ea" stroke="#1a5a88" stroke-width="0.55"/>
<circle cx="516.9" cy="305.1" r="1.25" fill="#e21ee0" stroke="#80207a" stroke-width="0.55"/>
<circle cx="516.9" cy="311.5" r="1.25" fill="#e21ee0" stroke="#80207a" stroke-width="0.55"/>
<circle cx="512.3" cy="315" r="1.25" fill="#e21ee0" stroke="#80207a" stroke-width="0.55"/>
<circle cx="521.1" cy="312.4" r="1.25" fill="#e21ee0" stroke="#80207a" stroke-width="0.55"/>
<circle cx="531.8" cy="307.7" r="1.25" fill="#c478f0" stroke="#70408a" stroke-width="0.55"/>
<circle cx="531.8" cy="311.5" r="1.25" fill="#c478f0" stroke="#70408a" stroke-width="0.55"/>
<circle cx="527.2" cy="313.1" r="1.25" fill="#c478f0" stroke="#70408a" stroke-width="0.55"/>
<circle cx="536.3" cy="311.9" r="1.25" fill="#c478f0" stroke="#70408a" stroke-width="0.55"/>
<line x1="493.8" y1="337.9" x2="498.8" y2="337.9" stroke="#111" stroke-width="1.35"/>
<line x1="496.3" y1="335.4" x2="496.3" y2="340.4" stroke="#111" stroke-width="1.35"/>
<line x1="515.2" y1="337.9" x2="520.2" y2="337.9" stroke="#111" stroke-width="1.35"/>
<line x1="517.7" y1="335.4" x2="517.7" y2="340.4" stroke="#111" stroke-width="1.35"/>
<line x1="529.8" y1="337.9" x2="534.8" y2="337.9" stroke="#111" stroke-width="1.35"/>
<line x1="532.3" y1="335.4" x2="532.3" y2="340.4" stroke="#111" stroke-width="1.35"/>
<line x1="515.2" y1="350.3" x2="520.2" y2="350.3" stroke="#111" stroke-width="1.35"/>
<line x1="517.7" y1="347.8" x2="517.7" y2="352.8" stroke="#111" stroke-width="1.35"/>
<line x1="529.8" y1="350.3" x2="534.8" y2="350.3" stroke="#111" stroke-width="1.35"/>
<line x1="532.3" y1="347.8" x2="532.3" y2="352.8" stroke="#111" stroke-width="1.35"/>
<line x1="529.8" y1="362.3" x2="534.8" y2="362.3" stroke="#111" stroke-width="1.35"/>
<line x1="532.3" y1="359.8" x2="532.3" y2="364.8" stroke="#111" stroke-width="1.35"/>
<text x="540.6" y="341.2" font-size="10.2" fill="#1a1a1a" stroke="#1a1a1a" stroke-width="0.25">M-CSF</text>
<text x="540.6" y="353.6" font-size="10.2" fill="#1a1a1a" stroke="#1a1a1a" stroke-width="0.25">WNK463</text>
<text x="540.6" y="365.2" font-size="10.2" fill="#1a1a1a" stroke="#1a1a1a" stroke-width="0.25">PMA</text>
<line x1="585.2" y1="270" x2="585.2" y2="332.6" stroke="#6e6e6e" stroke-width="1"/>
<line x1="583.2" y1="332.1" x2="646.3" y2="332.1" stroke="#6e6e6e" stroke-width="1"/>
<line x1="583.2" y1="332.1" x2="585.2" y2="332.1" stroke="#6e6e6e" stroke-width="1"/>
<text x="581.9" y="335.8" font-size="10.3" fill="#1a1a1a" stroke="#1a1a1a" stroke-width="0.25" text-anchor="end">0</text>
<line x1="583.2" y1="316.7" x2="585.2" y2="316.7" stroke="#6e6e6e" stroke-width="1"/>
<text x="581.9" y="320.4" font-size="10.3" fill="#1a1a1a" stroke="#1a1a1a" stroke-width="0.25" text-anchor="end">10</text>
<line x1="583.2" y1="301.3" x2="585.2" y2="301.3" stroke="#6e6e6e" stroke-width="1"/>
<text x="581.9" y="305" font-size="10.3" fill="#1a1a1a" stroke="#1a1a1a" stroke-width="0.25" text-anchor="end">20</text>
<line x1="583.2" y1="285.9" x2="585.2" y2="285.9" stroke="#6e6e6e" stroke-width="1"/>
<text x="581.9" y="289.6" font-size="10.3" fill="#1a1a1a" stroke="#1a1a1a" stroke-width="0.25" text-anchor="end">30</text>
<line x1="583.2" y1="270.5" x2="585.2" y2="270.5" stroke="#6e6e6e" stroke-width="1"/>
<text x="581.9" y="274.2" font-size="10.3" fill="#1a1a1a" stroke="#1a1a1a" stroke-width="0.25" text-anchor="end">40</text>
<rect x="591.8" y="319.4" width="11.8" height="12.7" fill="#fff" stroke="#999999" stroke-width="1"/>
<rect x="614.1" y="280.5" width="11.7" height="51.6" fill="#f8d5da" stroke="#b89ca2" stroke-width="1"/>
<rect x="628.5" y="277.5" width="12.2" height="54.6" fill="#f8d5da" stroke="#b89ca2" stroke-width="1"/>
<line x1="597.7" y1="317.5" x2="597.7" y2="321.5" stroke="#6a6a6a" stroke-width="0.85"/>
<line x1="594.45" y1="317.5" x2="600.95" y2="317.5" stroke="#808080" stroke-width="0.9"/>
<line x1="594.45" y1="321.5" x2="600.95" y2="321.5" stroke="#808080" stroke-width="0.9"/>
<line x1="619.95" y1="278.5" x2="619.95" y2="285" stroke="#6a6a6a" stroke-width="0.85"/>
<line x1="616.7" y1="278.5" x2="623.2" y2="278.5" stroke="#808080" stroke-width="0.9"/>
<line x1="616.7" y1="285" x2="623.2" y2="285" stroke="#808080" stroke-width="0.9"/>
<line x1="634.6" y1="274.5" x2="634.6" y2="280.5" stroke="#6a6a6a" stroke-width="0.85"/>
<line x1="631.35" y1="274.5" x2="637.85" y2="274.5" stroke="#808080" stroke-width="0.9"/>
<line x1="631.35" y1="280.5" x2="637.85" y2="280.5" stroke="#808080" stroke-width="0.9"/>
<line x1="597.4" y1="259.3" x2="634.6" y2="259.3" stroke="#999999" stroke-width="1"/>
<path d="M607.58 250.55L607.58 256.05M605.19 251.92L609.96 254.67M609.96 251.92L605.19 254.67" stroke="#111" stroke-width="1.4" fill="none"/>
<path d="M613.33 250.55L613.33 256.05M610.94 251.92L615.71 254.67M615.71 251.92L610.94 254.67" stroke="#111" stroke-width="1.4" fill="none"/>
<path d="M619.08 250.55L619.08 256.05M616.69 251.92L621.46 254.67M621.46 251.92L616.69 254.67" stroke="#111" stroke-width="1.4" fill="none"/>
<path d="M624.83 250.55L624.83 256.05M622.44 251.92L627.21 254.67M627.21 251.92L622.44 254.67" stroke="#111" stroke-width="1.4" fill="none"/>
<line x1="597.4" y1="271.5" x2="619.8" y2="271.5" stroke="#999999" stroke-width="1"/>
<path d="M600.08 263.05L600.08 268.55M597.69 264.43L602.46 267.18M602.46 264.43L597.69 267.18" stroke="#111" stroke-width="1.4" fill="none"/>
<path d="M605.83 263.05L605.83 268.55M603.44 264.43L608.21 267.18M608.21 264.43L603.44 267.18" stroke="#111" stroke-width="1.4" fill="none"/>
<path d="M611.58 263.05L611.58 268.55M609.19 264.43L613.96 267.18M613.96 264.43L609.19 267.18" stroke="#111" stroke-width="1.4" fill="none"/>
<path d="M617.33 263.05L617.33 268.55M614.94 264.43L619.71 267.18M619.71 264.43L614.94 267.18" stroke="#111" stroke-width="1.4" fill="none"/>
<circle cx="593.5" cy="317.2" r="1.25" fill="#1282ea" stroke="#1a5a88" stroke-width="0.55"/>
<circle cx="597.7" cy="318.9" r="1.25" fill="#1282ea" stroke="#1a5a88" stroke-width="0.55"/>
<circle cx="601.9" cy="318.3" r="1.25" fill="#1282ea" stroke="#1a5a88" stroke-width="0.55"/>
<circle cx="597.7" cy="323.1" r="1.25" fill="#1282ea" stroke="#1a5a88" stroke-width="0.55"/>
<circle cx="619.8" cy="276" r="1.25" fill="#e21ee0" stroke="#80207a" stroke-width="0.55"/>
<circle cx="615.3" cy="279.5" r="1.25" fill="#e21ee0" stroke="#80207a" stroke-width="0.55"/>
<circle cx="624.4" cy="280.3" r="1.25" fill="#e21ee0" stroke="#80207a" stroke-width="0.55"/>
<circle cx="619.8" cy="288.3" r="1.25" fill="#e21ee0" stroke="#80207a" stroke-width="0.55"/>
<circle cx="630" cy="275" r="1.25" fill="#c478f0" stroke="#70408a" stroke-width="0.55"/>
<circle cx="639.1" cy="275" r="1.25" fill="#c478f0" stroke="#70408a" stroke-width="0.55"/>
<circle cx="630" cy="279.8" r="1.25" fill="#c478f0" stroke="#70408a" stroke-width="0.55"/>
<circle cx="639.1" cy="279.2" r="1.25" fill="#c478f0" stroke="#70408a" stroke-width="0.55"/>
<line x1="596.2" y1="337.9" x2="601.2" y2="337.9" stroke="#111" stroke-width="1.35"/>
<line x1="598.7" y1="335.4" x2="598.7" y2="340.4" stroke="#111" stroke-width="1.35"/>
<line x1="618" y1="337.9" x2="623" y2="337.9" stroke="#111" stroke-width="1.35"/>
<line x1="620.5" y1="335.4" x2="620.5" y2="340.4" stroke="#111" stroke-width="1.35"/>
<line x1="632.6" y1="337.9" x2="637.6" y2="337.9" stroke="#111" stroke-width="1.35"/>
<line x1="635.1" y1="335.4" x2="635.1" y2="340.4" stroke="#111" stroke-width="1.35"/>
<line x1="618" y1="350.3" x2="623" y2="350.3" stroke="#111" stroke-width="1.35"/>
<line x1="620.5" y1="347.8" x2="620.5" y2="352.8" stroke="#111" stroke-width="1.35"/>
<line x1="632.6" y1="350.3" x2="637.6" y2="350.3" stroke="#111" stroke-width="1.35"/>
<line x1="635.1" y1="347.8" x2="635.1" y2="352.8" stroke="#111" stroke-width="1.35"/>
<line x1="632.6" y1="362.3" x2="637.6" y2="362.3" stroke="#111" stroke-width="1.35"/>
<line x1="635.1" y1="359.8" x2="635.1" y2="364.8" stroke="#111" stroke-width="1.35"/>
<text x="643.8" y="341.2" font-size="10.2" fill="#1a1a1a" stroke="#1a1a1a" stroke-width="0.25">M-CSF</text>
<text x="643.8" y="353.6" font-size="10.2" fill="#1a1a1a" stroke="#1a1a1a" stroke-width="0.25">WNK463</text>
<text x="643.8" y="365.2" font-size="10.2" fill="#1a1a1a" stroke="#1a1a1a" stroke-width="0.25">PMA</text>
</svg>
</body></html>
